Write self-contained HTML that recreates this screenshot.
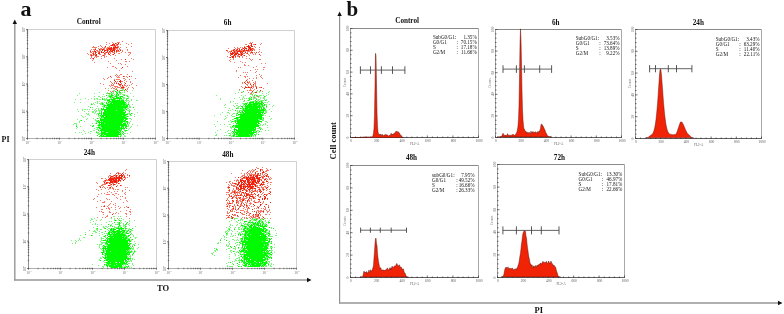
<!DOCTYPE html>
<html><head><meta charset="utf-8"><style>
html,body{margin:0;padding:0;background:#fff;}
body{width:784px;height:314px;overflow:hidden;}
svg{display:block;font-family:'Liberation Serif',serif;filter:blur(0.3px);}
</style></head><body>
<svg width="784" height="314" viewBox="0 0 784 314">
<defs><filter id="soft" x="-5%" y="-5%" width="110%" height="110%"><feGaussianBlur stdDeviation="0.42"/></filter></defs>
<rect width="784" height="314" fill="#fff"/>
<line x1="14.8" y1="23" x2="14.8" y2="280.6" stroke="#969696" stroke-width="1.4" />
<line x1="14.1" y1="280" x2="307" y2="280" stroke="#969696" stroke-width="1.5" />
<path d="M14.8 19.5 L17 24 L12.6 24 Z" fill="#111"/>
<path d="M311.5 280 L307 277.7 L307 282.3 Z" fill="#111"/>
<line x1="339.6" y1="16" x2="339.6" y2="303.6" stroke="#8e8e8e" stroke-width="1.15" />
<line x1="339.05" y1="303" x2="778" y2="303" stroke="#969696" stroke-width="1.5" />
<path d="M339.6 11.5 L341.8 16 L337.4 16 Z" fill="#111"/>
<path d="M782.5 303 L778 300.7 L778 305.3 Z" fill="#111"/>
<text x="20.5" y="16" font-size="22" font-weight="bold" text-anchor="start" fill="#111" >a</text>
<text x="346.5" y="16" font-size="21" font-weight="bold" text-anchor="start" fill="#111" >b</text>
<text x="1.5" y="142.3" font-size="8" font-weight="bold" text-anchor="start" fill="#111" >PI</text>
<text x="157" y="291" font-size="8.5" font-weight="bold" text-anchor="start" fill="#111" >TO</text>
<text x="534.5" y="312.8" font-size="8.5" font-weight="bold" text-anchor="start" fill="#111" >PI</text>
<text x="0" y="0" font-size="8.6" font-weight="bold" fill="#111" transform="translate(336.3 159.5) rotate(-90)">Cell count</text>
<path d="M27.5 29.5H155.5V138.5" fill="none" stroke="#d0d0d0" stroke-width="1"/>
<path d="M27.5 29.5V138.5" fill="none" stroke="#909090" stroke-width="1"/>
<path d="M27.5 138.5H155.5" fill="none" stroke="#b0b0b0" stroke-width="1"/>
<path d="M26.8 130.3h1.4M37.1 139.2v-1.4M26.8 125.5h1.4M42.8 139.2v-1.4M26.8 122.1h1.4M46.8 139.2v-1.4M26.8 119.5h1.4M49.9 139.2v-1.4M26.8 117.3h1.4M52.4 139.2v-1.4M26.8 115.5h1.4M54.5 139.2v-1.4M26.8 113.9h1.4M56.4 139.2v-1.4M26.8 112.5h1.4M58.0 139.2v-1.4M26.8 103.0h1.4M69.1 139.2v-1.4M26.8 98.2h1.4M74.8 139.2v-1.4M26.8 94.8h1.4M78.8 139.2v-1.4M26.8 92.2h1.4M81.9 139.2v-1.4M26.8 90.0h1.4M84.4 139.2v-1.4M26.8 88.2h1.4M86.5 139.2v-1.4M26.8 86.6h1.4M88.4 139.2v-1.4M26.8 85.2h1.4M90.0 139.2v-1.4M26.8 75.8h1.4M101.1 139.2v-1.4M26.8 71.0h1.4M106.8 139.2v-1.4M26.8 67.6h1.4M110.8 139.2v-1.4M26.8 65.0h1.4M113.9 139.2v-1.4M26.8 62.8h1.4M116.4 139.2v-1.4M26.8 61.0h1.4M118.5 139.2v-1.4M26.8 59.4h1.4M120.4 139.2v-1.4M26.8 58.0h1.4M122.0 139.2v-1.4M26.8 48.5h1.4M133.1 139.2v-1.4M26.8 43.7h1.4M138.8 139.2v-1.4M26.8 40.3h1.4M142.8 139.2v-1.4M26.8 37.7h1.4M145.9 139.2v-1.4M26.8 35.5h1.4M148.4 139.2v-1.4M26.8 33.7h1.4M150.5 139.2v-1.4M26.8 32.1h1.4M152.4 139.2v-1.4M26.8 30.7h1.4M154.0 139.2v-1.4M26.0 138.5h2M27.5 139.7v-2M26.0 111.2h2M59.5 139.7v-2M26.0 84.0h2M91.5 139.7v-2M26.0 56.8h2M123.5 139.7v-2M26.0 29.5h2M155.5 139.7v-2" stroke="#444" stroke-width="0.7" fill="none"/>
<text x="0" y="0" font-size="3.8" fill="#555" transform="translate(25.3 140.9) rotate(-90)">10</text>
<text x="0" y="0" font-size="2.5" fill="#666" transform="translate(23.1 137.3) rotate(-90)">0</text>
<text x="25.3" y="143.7" font-size="3.6" fill="#666">10</text>
<text x="29.3" y="141.9" font-size="2.4" fill="#777">0</text>
<text x="0" y="0" font-size="3.8" fill="#555" transform="translate(25.3 113.7) rotate(-90)">10</text>
<text x="0" y="0" font-size="2.5" fill="#666" transform="translate(23.1 110.0) rotate(-90)">1</text>
<text x="57.3" y="143.7" font-size="3.6" fill="#666">10</text>
<text x="61.3" y="141.9" font-size="2.4" fill="#777">1</text>
<text x="0" y="0" font-size="3.8" fill="#555" transform="translate(25.3 86.4) rotate(-90)">10</text>
<text x="0" y="0" font-size="2.5" fill="#666" transform="translate(23.1 82.8) rotate(-90)">2</text>
<text x="89.3" y="143.7" font-size="3.6" fill="#666">10</text>
<text x="93.3" y="141.9" font-size="2.4" fill="#777">2</text>
<text x="0" y="0" font-size="3.8" fill="#555" transform="translate(25.3 59.1) rotate(-90)">10</text>
<text x="0" y="0" font-size="2.5" fill="#666" transform="translate(23.1 55.5) rotate(-90)">3</text>
<text x="121.3" y="143.7" font-size="3.6" fill="#666">10</text>
<text x="125.3" y="141.9" font-size="2.4" fill="#777">3</text>
<text x="0" y="0" font-size="3.8" fill="#555" transform="translate(25.3 31.9) rotate(-90)">10</text>
<text x="0" y="0" font-size="2.5" fill="#666" transform="translate(23.1 28.3) rotate(-90)">4</text>
<text x="153.3" y="143.7" font-size="3.6" fill="#666">10</text>
<text x="157.3" y="141.9" font-size="2.4" fill="#777">4</text>
<text x="76.8" y="23.6" font-size="7.2" font-weight="bold" text-anchor="start" fill="#111" >Control</text>
<g filter="url(#soft)">
<path fill="#78f878" d="M108 88h1v1h-1zM114 88h1v1h-1zM120 88h1v1h-1zM122 89h2v1h-2zM113 90h2v1h-2zM119 90h1v1h-1zM132 90h1v1h-1zM110 91h1v1h-1zM116 91h2v1h-2zM124 91h1v1h-1zM99 92h1v1h-1zM107 92h1v1h-1zM113 92h1v1h-1zM117 92h1v1h-1zM122 92h1v1h-1zM124 92h1v1h-1zM79 93h1v1h-1zM94 93h1v1h-1zM106 93h2v1h-2zM110 93h4v1h-4zM116 93h1v1h-1zM119 93h3v1h-3zM130 93h1v1h-1zM103 94h1v1h-1zM109 94h1v1h-1zM112 94h1v1h-1zM114 94h1v1h-1zM117 94h1v1h-1zM120 94h1v1h-1zM122 94h3v1h-3zM77 95h1v1h-1zM108 95h3v1h-3zM113 95h1v1h-1zM115 95h1v1h-1zM117 95h1v1h-1zM123 95h1v1h-1zM126 95h2v1h-2zM94 96h1v1h-1zM98 96h2v1h-2zM102 96h1v1h-1zM104 96h1v1h-1zM108 96h1v1h-1zM112 96h1v1h-1zM114 96h1v1h-1zM117 96h1v1h-1zM119 96h1v1h-1zM128 96h1v1h-1zM133 96h1v1h-1zM100 97h1v1h-1zM107 97h1v1h-1zM109 97h1v1h-1zM111 97h1v1h-1zM113 97h2v1h-2zM119 97h1v1h-1zM122 97h3v1h-3zM128 97h1v1h-1zM85 98h1v1h-1zM91 98h1v1h-1zM94 98h1v1h-1zM96 98h2v1h-2zM104 98h1v1h-1zM106 98h1v1h-1zM110 98h2v1h-2zM123 98h2v1h-2zM126 98h1v1h-1zM128 98h1v1h-1zM75 99h1v1h-1zM80 99h1v1h-1zM88 99h1v1h-1zM94 99h1v1h-1zM97 99h1v1h-1zM99 99h2v1h-2zM103 99h6v1h-6zM110 99h1v1h-1zM115 99h1v1h-1zM117 99h1v1h-1zM120 99h4v1h-4zM131 99h1v1h-1zM104 100h2v1h-2zM111 100h1v1h-1zM120 100h1v1h-1zM125 100h4v1h-4zM131 100h1v1h-1zM136 100h2v1h-2zM97 101h1v1h-1zM99 101h1v1h-1zM107 101h2v1h-2zM111 101h1v1h-1zM124 101h1v1h-1zM126 101h1v1h-1zM129 101h1v1h-1zM74 102h1v1h-1zM80 102h1v1h-1zM95 102h1v1h-1zM97 102h1v1h-1zM101 102h2v1h-2zM104 102h1v1h-1zM109 102h2v1h-2zM128 102h1v1h-1zM91 103h1v1h-1zM93 103h1v1h-1zM97 103h1v1h-1zM99 103h3v1h-3zM103 103h1v1h-1zM107 103h3v1h-3zM112 103h1v1h-1zM125 103h2v1h-2zM128 103h1v1h-1zM92 104h1v1h-1zM94 104h1v1h-1zM100 104h2v1h-2zM103 104h2v1h-2zM126 104h2v1h-2zM132 104h1v1h-1zM103 105h1v1h-1zM106 105h1v1h-1zM122 105h1v1h-1zM125 105h1v1h-1zM129 105h1v1h-1zM88 106h1v1h-1zM97 106h1v1h-1zM102 106h2v1h-2zM106 106h2v1h-2zM129 106h2v1h-2zM92 107h1v1h-1zM103 107h3v1h-3zM127 107h1v1h-1zM129 107h2v1h-2zM96 108h1v1h-1zM98 108h1v1h-1zM123 108h2v1h-2zM127 108h2v1h-2zM77 109h1v1h-1zM82 109h1v1h-1zM84 109h2v1h-2zM87 109h1v1h-1zM89 109h1v1h-1zM92 109h1v1h-1zM95 109h1v1h-1zM98 109h1v1h-1zM124 109h2v1h-2zM129 109h1v1h-1zM134 109h1v1h-1zM82 110h1v1h-1zM94 110h1v1h-1zM96 110h1v1h-1zM98 110h5v1h-5zM106 110h1v1h-1zM116 110h1v1h-1zM127 110h4v1h-4zM78 111h1v1h-1zM84 111h1v1h-1zM88 111h1v1h-1zM92 111h2v1h-2zM95 111h2v1h-2zM99 111h1v1h-1zM123 111h1v1h-1zM92 112h2v1h-2zM95 112h1v1h-1zM99 112h1v1h-1zM129 112h1v1h-1zM137 112h1v1h-1zM86 113h1v1h-1zM88 113h1v1h-1zM94 113h1v1h-1zM97 113h2v1h-2zM100 113h1v1h-1zM127 113h3v1h-3zM132 113h1v1h-1zM87 114h2v1h-2zM96 114h1v1h-1zM129 114h1v1h-1zM134 114h1v1h-1zM81 115h1v1h-1zM89 115h1v1h-1zM98 115h2v1h-2zM101 115h1v1h-1zM122 115h1v1h-1zM126 115h1v1h-1zM130 115h2v1h-2zM82 116h1v1h-1zM85 116h1v1h-1zM98 116h1v1h-1zM100 116h1v1h-1zM125 116h2v1h-2zM128 116h1v1h-1zM134 116h1v1h-1zM83 117h1v1h-1zM99 117h1v1h-1zM102 117h1v1h-1zM126 117h1v1h-1zM87 118h1v1h-1zM93 118h1v1h-1zM98 118h1v1h-1zM101 118h3v1h-3zM129 118h2v1h-2zM77 119h1v1h-1zM86 119h1v1h-1zM95 119h1v1h-1zM127 119h1v1h-1zM131 119h1v1h-1zM80 120h1v1h-1zM95 120h3v1h-3zM123 120h1v1h-1zM79 121h1v1h-1zM84 121h1v1h-1zM96 121h1v1h-1zM98 121h1v1h-1zM102 121h1v1h-1zM125 121h1v1h-1zM130 121h1v1h-1zM79 122h1v1h-1zM96 122h1v1h-1zM124 122h3v1h-3zM128 122h2v1h-2zM74 123h3v1h-3zM92 123h1v1h-1zM95 123h1v1h-1zM104 123h1v1h-1zM129 123h1v1h-1zM73 124h1v1h-1zM76 124h1v1h-1zM98 124h1v1h-1zM126 124h3v1h-3zM132 124h1v1h-1zM76 125h1v1h-1zM90 125h1v1h-1zM97 125h1v1h-1zM100 125h1v1h-1zM128 125h1v1h-1zM137 125h1v1h-1zM80 126h1v1h-1zM93 126h1v1h-1zM98 126h3v1h-3zM127 126h2v1h-2zM131 126h1v1h-1zM77 127h1v1h-1zM96 127h2v1h-2zM100 127h2v1h-2zM120 127h1v1h-1zM122 127h1v1h-1zM126 127h1v1h-1zM130 127h1v1h-1zM76 128h1v1h-1zM94 128h1v1h-1zM97 128h1v1h-1zM101 128h1v1h-1zM129 128h1v1h-1zM96 129h3v1h-3zM100 129h1v1h-1zM120 129h1v1h-1zM123 129h2v1h-2zM128 129h1v1h-1zM83 130h1v1h-1zM93 130h2v1h-2zM118 130h1v1h-1zM121 130h1v1h-1zM124 130h1v1h-1zM127 130h1v1h-1zM84 131h1v1h-1zM90 131h2v1h-2zM96 131h1v1h-1zM99 131h1v1h-1zM102 131h2v1h-2zM119 131h1v1h-1zM125 131h1v1h-1zM75 132h1v1h-1zM79 132h1v1h-1zM81 132h1v1h-1zM88 132h1v1h-1zM97 132h2v1h-2zM106 132h2v1h-2zM120 132h2v1h-2zM130 132h1v1h-1zM85 133h1v1h-1zM90 133h1v1h-1zM97 133h4v1h-4zM119 133h1v1h-1zM124 133h2v1h-2zM127 133h1v1h-1zM82 134h1v1h-1zM98 134h2v1h-2zM103 134h1v1h-1zM121 134h1v1h-1zM102 135h1v1h-1zM104 135h2v1h-2zM118 135h1v1h-1zM120 135h2v1h-2zM124 135h1v1h-1zM100 136h1v1h-1zM124 136h2v1h-2z"/>
<path fill="#06fa06" d="M113 88h1v1h-1zM116 89h1v1h-1zM121 90h2v1h-2zM124 90h1v1h-1zM115 91h1v1h-1zM119 91h1v1h-1zM111 92h1v1h-1zM116 92h1v1h-1zM119 92h2v1h-2zM108 93h2v1h-2zM117 93h1v1h-1zM111 94h1v1h-1zM116 94h1v1h-1zM118 94h1v1h-1zM106 95h1v1h-1zM111 95h2v1h-2zM116 95h1v1h-1zM118 95h1v1h-1zM124 95h1v1h-1zM109 96h3v1h-3zM115 96h2v1h-2zM120 96h3v1h-3zM127 96h1v1h-1zM110 97h1v1h-1zM112 97h1v1h-1zM116 97h3v1h-3zM120 97h1v1h-1zM102 98h1v1h-1zM113 98h9v1h-9zM127 98h1v1h-1zM102 99h1v1h-1zM109 99h1v1h-1zM111 99h4v1h-4zM119 99h1v1h-1zM126 99h1v1h-1zM107 100h3v1h-3zM112 100h8v1h-8zM121 100h3v1h-3zM109 101h2v1h-2zM112 101h12v1h-12zM106 102h1v1h-1zM108 102h1v1h-1zM111 102h15v1h-15zM102 103h1v1h-1zM106 103h1v1h-1zM110 103h2v1h-2zM113 103h12v1h-12zM91 104h1v1h-1zM102 104h1v1h-1zM107 104h19v1h-19zM128 104h1v1h-1zM104 105h2v1h-2zM107 105h15v1h-15zM123 105h2v1h-2zM126 105h2v1h-2zM104 106h1v1h-1zM108 106h20v1h-20zM90 107h1v1h-1zM106 107h21v1h-21zM133 107h1v1h-1zM101 108h1v1h-1zM103 108h1v1h-1zM106 108h17v1h-17zM125 108h1v1h-1zM101 109h23v1h-23zM126 109h1v1h-1zM104 110h2v1h-2zM107 110h9v1h-9zM117 110h8v1h-8zM101 111h1v1h-1zM104 111h19v1h-19zM125 111h1v1h-1zM129 111h1v1h-1zM101 112h1v1h-1zM103 112h23v1h-23zM99 113h1v1h-1zM101 113h1v1h-1zM103 113h22v1h-22zM131 113h1v1h-1zM98 114h1v1h-1zM101 114h1v1h-1zM103 114h25v1h-25zM130 114h1v1h-1zM100 115h1v1h-1zM102 115h20v1h-20zM123 115h3v1h-3zM101 116h3v1h-3zM105 116h20v1h-20zM127 116h1v1h-1zM101 117h1v1h-1zM103 117h23v1h-23zM97 118h1v1h-1zM100 118h1v1h-1zM104 118h24v1h-24zM100 119h24v1h-24zM125 119h2v1h-2zM81 120h1v1h-1zM98 120h1v1h-1zM100 120h23v1h-23zM124 120h2v1h-2zM97 121h1v1h-1zM99 121h1v1h-1zM101 121h1v1h-1zM103 121h22v1h-22zM126 121h2v1h-2zM98 122h25v1h-25zM127 122h1v1h-1zM96 123h1v1h-1zM99 123h1v1h-1zM101 123h3v1h-3zM105 123h17v1h-17zM123 123h3v1h-3zM127 123h1v1h-1zM99 124h27v1h-27zM93 125h1v1h-1zM98 125h2v1h-2zM101 125h26v1h-26zM76 126h1v1h-1zM92 126h1v1h-1zM101 126h19v1h-19zM121 126h3v1h-3zM125 126h2v1h-2zM98 127h2v1h-2zM102 127h18v1h-18zM121 127h1v1h-1zM123 127h1v1h-1zM125 127h1v1h-1zM99 128h2v1h-2zM102 128h23v1h-23zM126 128h1v1h-1zM101 129h19v1h-19zM121 129h1v1h-1zM98 130h1v1h-1zM100 130h18v1h-18zM119 130h2v1h-2zM125 130h2v1h-2zM101 131h1v1h-1zM104 131h15v1h-15zM120 131h1v1h-1zM122 131h1v1h-1zM96 132h1v1h-1zM101 132h5v1h-5zM108 132h12v1h-12zM123 132h1v1h-1zM101 133h18v1h-18zM120 133h1v1h-1zM122 133h1v1h-1zM101 134h2v1h-2zM104 134h17v1h-17zM123 134h1v1h-1zM97 135h1v1h-1zM100 135h2v1h-2zM103 135h1v1h-1zM106 135h12v1h-12zM99 136h1v1h-1zM101 136h18v1h-18zM120 136h1v1h-1z"/>
<path fill="#f57a68" d="M122 41h1v1h-1zM106 42h1v1h-1zM112 42h1v1h-1zM117 42h3v1h-3zM109 43h1v1h-1zM113 43h1v1h-1zM116 43h1v1h-1zM126 43h1v1h-1zM131 43h1v1h-1zM106 44h1v1h-1zM116 44h1v1h-1zM118 44h1v1h-1zM120 44h1v1h-1zM128 44h1v1h-1zM100 45h1v1h-1zM110 45h1v1h-1zM113 45h1v1h-1zM115 45h3v1h-3zM93 46h1v1h-1zM98 46h1v1h-1zM101 46h1v1h-1zM109 46h1v1h-1zM113 46h2v1h-2zM117 46h2v1h-2zM131 46h1v1h-1zM92 47h5v1h-5zM102 47h1v1h-1zM104 47h2v1h-2zM107 47h4v1h-4zM118 47h1v1h-1zM120 47h1v1h-1zM126 47h1v1h-1zM95 48h1v1h-1zM98 48h1v1h-1zM100 48h2v1h-2zM103 48h2v1h-2zM106 48h2v1h-2zM112 48h1v1h-1zM115 48h3v1h-3zM119 48h1v1h-1zM91 49h1v1h-1zM93 49h2v1h-2zM100 49h2v1h-2zM104 49h1v1h-1zM106 49h1v1h-1zM108 49h1v1h-1zM112 49h1v1h-1zM115 49h1v1h-1zM117 49h1v1h-1zM119 49h2v1h-2zM127 49h1v1h-1zM90 50h1v1h-1zM94 50h1v1h-1zM96 50h2v1h-2zM99 50h2v1h-2zM106 50h1v1h-1zM108 50h1v1h-1zM111 50h1v1h-1zM117 50h1v1h-1zM122 50h1v1h-1zM127 50h1v1h-1zM92 51h2v1h-2zM97 51h3v1h-3zM110 51h1v1h-1zM117 51h3v1h-3zM122 51h1v1h-1zM90 52h2v1h-2zM93 52h1v1h-1zM96 52h1v1h-1zM98 52h1v1h-1zM102 52h1v1h-1zM105 52h1v1h-1zM107 52h4v1h-4zM112 52h3v1h-3zM116 52h1v1h-1zM121 52h1v1h-1zM125 52h1v1h-1zM128 52h3v1h-3zM87 53h1v1h-1zM92 53h1v1h-1zM105 53h1v1h-1zM110 53h1v1h-1zM118 53h2v1h-2zM130 53h1v1h-1zM88 54h1v1h-1zM90 54h2v1h-2zM94 54h2v1h-2zM99 54h2v1h-2zM104 54h2v1h-2zM108 54h1v1h-1zM112 54h1v1h-1zM129 54h1v1h-1zM90 55h1v1h-1zM92 55h2v1h-2zM102 55h1v1h-1zM104 55h1v1h-1zM110 55h1v1h-1zM115 55h1v1h-1zM128 55h1v1h-1zM91 56h1v1h-1zM95 56h4v1h-4zM101 56h1v1h-1zM104 56h1v1h-1zM106 56h1v1h-1zM91 57h1v1h-1zM94 57h1v1h-1zM96 57h1v1h-1zM104 57h1v1h-1zM90 58h1v1h-1zM92 58h1v1h-1zM101 58h1v1h-1zM114 58h1v1h-1zM131 58h1v1h-1zM93 59h1v1h-1zM121 59h1v1h-1zM133 59h1v1h-1zM92 60h1v1h-1zM116 60h1v1h-1zM108 61h1v1h-1zM125 61h2v1h-2zM129 61h1v1h-1zM94 62h1v1h-1zM110 63h1v1h-1zM118 63h1v1h-1zM120 63h1v1h-1zM121 64h1v1h-1zM125 64h1v1h-1zM112 66h2v1h-2zM127 66h1v1h-1zM107 67h1v1h-1zM115 67h1v1h-1zM116 68h1v1h-1zM121 68h1v1h-1zM119 70h1v1h-1zM132 71h1v1h-1zM116 74h1v1h-1zM120 74h2v1h-2zM127 74h1v1h-1zM115 75h1v1h-1zM117 75h1v1h-1zM119 75h1v1h-1zM116 76h1v1h-1zM118 76h1v1h-1zM124 76h1v1h-1zM126 76h1v1h-1zM131 76h1v1h-1zM108 77h1v1h-1zM111 77h1v1h-1zM117 77h3v1h-3zM127 77h1v1h-1zM103 78h1v1h-1zM107 78h1v1h-1zM123 78h2v1h-2zM135 78h1v1h-1zM104 79h1v1h-1zM114 79h1v1h-1zM116 79h4v1h-4zM125 79h1v1h-1zM129 79h1v1h-1zM124 80h1v1h-1zM110 81h1v1h-1zM117 81h1v1h-1zM121 81h2v1h-2zM126 81h1v1h-1zM130 81h1v1h-1zM111 82h1v1h-1zM114 82h1v1h-1zM116 82h1v1h-1zM124 82h1v1h-1zM130 82h1v1h-1zM100 83h1v1h-1zM112 83h1v1h-1zM114 83h1v1h-1zM121 83h1v1h-1zM132 83h1v1h-1zM103 84h1v1h-1zM111 84h1v1h-1zM113 84h1v1h-1zM118 84h1v1h-1zM121 84h1v1h-1zM124 84h1v1h-1zM131 84h1v1h-1zM109 85h1v1h-1zM111 85h3v1h-3zM119 85h2v1h-2zM124 85h2v1h-2zM127 85h1v1h-1zM129 85h1v1h-1zM136 85h1v1h-1zM110 86h1v1h-1zM114 86h4v1h-4zM120 86h1v1h-1zM122 86h2v1h-2zM126 86h1v1h-1zM112 87h1v1h-1zM115 87h1v1h-1zM117 87h3v1h-3zM124 87h1v1h-1zM128 87h1v1h-1zM132 87h1v1h-1zM105 88h1v1h-1zM111 88h1v1h-1zM113 88h2v1h-2zM116 88h1v1h-1zM121 88h3v1h-3zM127 88h1v1h-1zM133 88h1v1h-1zM115 89h1v1h-1zM127 89h1v1h-1zM108 90h1v1h-1zM120 90h1v1h-1zM126 90h1v1h-1zM110 91h1v1h-1zM112 91h2v1h-2zM127 91h1v1h-1zM109 93h1v1h-1zM113 97h1v1h-1z"/>
<path fill="#f0220c" d="M115 43h1v1h-1zM118 43h1v1h-1zM112 44h3v1h-3zM117 44h1v1h-1zM111 45h2v1h-2zM114 45h1v1h-1zM105 46h1v1h-1zM115 46h1v1h-1zM111 47h1v1h-1zM113 47h5v1h-5zM108 48h4v1h-4zM113 48h2v1h-2zM95 49h1v1h-1zM99 49h1v1h-1zM102 49h2v1h-2zM107 49h1v1h-1zM109 49h3v1h-3zM113 49h2v1h-2zM102 50h1v1h-1zM104 50h2v1h-2zM107 50h1v1h-1zM110 50h1v1h-1zM112 50h3v1h-3zM116 50h1v1h-1zM118 50h1v1h-1zM120 50h1v1h-1zM90 51h1v1h-1zM94 51h2v1h-2zM101 51h1v1h-1zM104 51h1v1h-1zM107 51h1v1h-1zM109 51h1v1h-1zM111 51h2v1h-2zM114 51h1v1h-1zM116 51h1v1h-1zM95 52h1v1h-1zM99 52h1v1h-1zM101 52h1v1h-1zM103 52h1v1h-1zM106 52h1v1h-1zM93 53h1v1h-1zM95 53h1v1h-1zM98 53h2v1h-2zM104 53h1v1h-1zM108 53h1v1h-1zM114 53h1v1h-1zM93 54h1v1h-1zM96 54h1v1h-1zM109 54h1v1h-1zM113 54h1v1h-1zM91 55h1v1h-1zM95 55h2v1h-2zM103 55h1v1h-1zM93 58h1v1h-1zM125 59h1v1h-1zM122 67h1v1h-1zM110 76h1v1h-1zM123 76h1v1h-1zM129 76h1v1h-1zM114 80h1v1h-1zM120 80h1v1h-1zM115 81h1v1h-1zM119 81h2v1h-2zM120 82h1v1h-1zM116 83h1v1h-1zM118 83h1v1h-1zM125 83h1v1h-1zM119 84h2v1h-2zM122 85h1v1h-1zM121 87h3v1h-3zM125 89h1v1h-1zM117 90h1v1h-1z"/>
</g>
<path d="M167.5 30.5H294.5V138.5" fill="none" stroke="#d0d0d0" stroke-width="1"/>
<path d="M167.5 30.5V138.5" fill="none" stroke="#909090" stroke-width="1"/>
<path d="M167.5 138.5H294.5" fill="none" stroke="#b0b0b0" stroke-width="1"/>
<path d="M166.8 130.4h1.4M177.1 139.2v-1.4M166.8 125.6h1.4M182.6 139.2v-1.4M166.8 122.2h1.4M186.6 139.2v-1.4M166.8 119.6h1.4M189.7 139.2v-1.4M166.8 117.5h1.4M192.2 139.2v-1.4M166.8 115.7h1.4M194.3 139.2v-1.4M166.8 114.1h1.4M196.2 139.2v-1.4M166.8 112.7h1.4M197.8 139.2v-1.4M166.8 103.4h1.4M208.8 139.2v-1.4M166.8 98.6h1.4M214.4 139.2v-1.4M166.8 95.2h1.4M218.4 139.2v-1.4M166.8 92.6h1.4M221.4 139.2v-1.4M166.8 90.5h1.4M224.0 139.2v-1.4M166.8 88.7h1.4M226.1 139.2v-1.4M166.8 87.1h1.4M227.9 139.2v-1.4M166.8 85.7h1.4M229.5 139.2v-1.4M166.8 76.4h1.4M240.6 139.2v-1.4M166.8 71.6h1.4M246.1 139.2v-1.4M166.8 68.2h1.4M250.1 139.2v-1.4M166.8 65.6h1.4M253.2 139.2v-1.4M166.8 63.5h1.4M255.7 139.2v-1.4M166.8 61.7h1.4M257.8 139.2v-1.4M166.8 60.1h1.4M259.7 139.2v-1.4M166.8 58.7h1.4M261.3 139.2v-1.4M166.8 49.4h1.4M272.3 139.2v-1.4M166.8 44.6h1.4M277.9 139.2v-1.4M166.8 41.2h1.4M281.9 139.2v-1.4M166.8 38.6h1.4M284.9 139.2v-1.4M166.8 36.5h1.4M287.5 139.2v-1.4M166.8 34.7h1.4M289.6 139.2v-1.4M166.8 33.1h1.4M291.4 139.2v-1.4M166.8 31.7h1.4M293.0 139.2v-1.4M166.0 138.5h2M167.5 139.7v-2M166.0 111.5h2M199.2 139.7v-2M166.0 84.5h2M231.0 139.7v-2M166.0 57.5h2M262.8 139.7v-2M166.0 30.5h2M294.5 139.7v-2" stroke="#444" stroke-width="0.7" fill="none"/>
<text x="0" y="0" font-size="3.8" fill="#555" transform="translate(165.3 140.9) rotate(-90)">10</text>
<text x="0" y="0" font-size="2.5" fill="#666" transform="translate(163.1 137.3) rotate(-90)">0</text>
<text x="165.3" y="143.7" font-size="3.6" fill="#666">10</text>
<text x="169.3" y="141.9" font-size="2.4" fill="#777">0</text>
<text x="0" y="0" font-size="3.8" fill="#555" transform="translate(165.3 113.9) rotate(-90)">10</text>
<text x="0" y="0" font-size="2.5" fill="#666" transform="translate(163.1 110.3) rotate(-90)">1</text>
<text x="197.1" y="143.7" font-size="3.6" fill="#666">10</text>
<text x="201.1" y="141.9" font-size="2.4" fill="#777">1</text>
<text x="0" y="0" font-size="3.8" fill="#555" transform="translate(165.3 86.9) rotate(-90)">10</text>
<text x="0" y="0" font-size="2.5" fill="#666" transform="translate(163.1 83.3) rotate(-90)">2</text>
<text x="228.8" y="143.7" font-size="3.6" fill="#666">10</text>
<text x="232.8" y="141.9" font-size="2.4" fill="#777">2</text>
<text x="0" y="0" font-size="3.8" fill="#555" transform="translate(165.3 59.9) rotate(-90)">10</text>
<text x="0" y="0" font-size="2.5" fill="#666" transform="translate(163.1 56.3) rotate(-90)">3</text>
<text x="260.6" y="143.7" font-size="3.6" fill="#666">10</text>
<text x="264.6" y="141.9" font-size="2.4" fill="#777">3</text>
<text x="0" y="0" font-size="3.8" fill="#555" transform="translate(165.3 32.9) rotate(-90)">10</text>
<text x="0" y="0" font-size="2.5" fill="#666" transform="translate(163.1 29.3) rotate(-90)">4</text>
<text x="292.3" y="143.7" font-size="3.6" fill="#666">10</text>
<text x="296.3" y="141.9" font-size="2.4" fill="#777">4</text>
<text x="223.8" y="24.6" font-size="7.2" font-weight="bold" text-anchor="start" fill="#111" >6h</text>
<g filter="url(#soft)">
<path fill="#78f878" d="M239 90h1v1h-1zM250 90h1v1h-1zM256 91h1v1h-1zM259 91h2v1h-2zM269 91h1v1h-1zM238 92h1v1h-1zM242 92h1v1h-1zM252 92h1v1h-1zM254 92h1v1h-1zM259 92h1v1h-1zM268 92h1v1h-1zM235 93h1v1h-1zM253 93h1v1h-1zM262 93h1v1h-1zM266 93h1v1h-1zM250 94h2v1h-2zM255 94h1v1h-1zM268 94h1v1h-1zM216 95h1v1h-1zM241 95h1v1h-1zM245 95h1v1h-1zM252 95h1v1h-1zM257 95h1v1h-1zM259 95h3v1h-3zM263 95h1v1h-1zM266 95h1v1h-1zM243 96h1v1h-1zM250 96h1v1h-1zM253 96h2v1h-2zM256 96h2v1h-2zM259 96h1v1h-1zM265 96h1v1h-1zM239 97h1v1h-1zM243 97h1v1h-1zM249 97h1v1h-1zM253 97h1v1h-1zM255 97h1v1h-1zM258 97h1v1h-1zM260 97h1v1h-1zM263 97h2v1h-2zM220 98h1v1h-1zM234 98h1v1h-1zM242 98h1v1h-1zM244 98h1v1h-1zM246 98h1v1h-1zM248 98h1v1h-1zM250 98h2v1h-2zM253 98h4v1h-4zM260 98h1v1h-1zM263 98h2v1h-2zM220 99h1v1h-1zM240 99h1v1h-1zM242 99h1v1h-1zM250 99h1v1h-1zM253 99h1v1h-1zM258 99h2v1h-2zM264 99h1v1h-1zM266 99h1v1h-1zM244 100h1v1h-1zM247 100h1v1h-1zM249 100h1v1h-1zM257 100h2v1h-2zM260 100h4v1h-4zM266 100h1v1h-1zM230 101h1v1h-1zM233 101h1v1h-1zM243 101h2v1h-2zM250 101h3v1h-3zM254 101h2v1h-2zM257 101h1v1h-1zM260 101h1v1h-1zM262 101h1v1h-1zM268 101h1v1h-1zM230 102h1v1h-1zM247 102h1v1h-1zM257 102h1v1h-1zM259 102h1v1h-1zM264 102h2v1h-2zM267 102h1v1h-1zM235 103h1v1h-1zM237 103h1v1h-1zM242 103h3v1h-3zM247 103h1v1h-1zM251 103h2v1h-2zM262 103h1v1h-1zM225 104h1v1h-1zM243 104h1v1h-1zM245 104h1v1h-1zM258 104h1v1h-1zM260 104h1v1h-1zM265 104h2v1h-2zM269 104h1v1h-1zM224 105h1v1h-1zM233 105h1v1h-1zM236 105h2v1h-2zM240 105h1v1h-1zM243 105h1v1h-1zM246 105h1v1h-1zM252 105h1v1h-1zM257 105h1v1h-1zM260 105h2v1h-2zM263 105h1v1h-1zM266 105h1v1h-1zM273 105h1v1h-1zM234 106h1v1h-1zM238 106h2v1h-2zM244 106h1v1h-1zM261 106h1v1h-1zM263 106h1v1h-1zM272 106h1v1h-1zM225 107h1v1h-1zM237 107h2v1h-2zM260 107h1v1h-1zM264 107h1v1h-1zM266 107h1v1h-1zM229 108h1v1h-1zM237 108h2v1h-2zM241 108h2v1h-2zM244 108h1v1h-1zM248 108h1v1h-1zM232 109h1v1h-1zM242 109h1v1h-1zM244 109h1v1h-1zM260 109h1v1h-1zM264 109h1v1h-1zM269 109h1v1h-1zM228 110h1v1h-1zM230 110h1v1h-1zM237 110h1v1h-1zM239 110h4v1h-4zM265 110h2v1h-2zM237 111h1v1h-1zM241 111h1v1h-1zM261 111h2v1h-2zM265 111h2v1h-2zM271 111h1v1h-1zM222 112h1v1h-1zM227 112h2v1h-2zM237 112h3v1h-3zM241 112h1v1h-1zM265 112h2v1h-2zM229 113h1v1h-1zM233 113h2v1h-2zM236 113h1v1h-1zM240 113h3v1h-3zM257 113h1v1h-1zM265 113h1v1h-1zM220 114h1v1h-1zM232 114h1v1h-1zM236 114h1v1h-1zM262 114h2v1h-2zM214 115h1v1h-1zM227 115h1v1h-1zM231 115h1v1h-1zM237 115h2v1h-2zM263 115h1v1h-1zM265 115h1v1h-1zM225 116h1v1h-1zM232 116h3v1h-3zM239 116h1v1h-1zM269 116h1v1h-1zM226 117h1v1h-1zM262 117h2v1h-2zM225 118h1v1h-1zM238 118h1v1h-1zM271 118h1v1h-1zM224 119h1v1h-1zM232 119h2v1h-2zM236 119h1v1h-1zM238 119h1v1h-1zM258 119h2v1h-2zM262 119h2v1h-2zM270 119h1v1h-1zM230 120h1v1h-1zM234 120h1v1h-1zM236 120h1v1h-1zM259 120h1v1h-1zM262 120h2v1h-2zM217 121h1v1h-1zM228 121h1v1h-1zM231 121h1v1h-1zM233 121h2v1h-2zM236 121h1v1h-1zM265 121h2v1h-2zM231 122h1v1h-1zM261 122h1v1h-1zM267 122h1v1h-1zM233 123h1v1h-1zM265 123h1v1h-1zM214 124h1v1h-1zM220 124h1v1h-1zM224 124h1v1h-1zM229 124h2v1h-2zM236 124h2v1h-2zM258 124h1v1h-1zM260 124h1v1h-1zM263 124h1v1h-1zM265 124h1v1h-1zM234 125h1v1h-1zM259 125h2v1h-2zM262 125h1v1h-1zM267 125h1v1h-1zM215 126h1v1h-1zM227 126h1v1h-1zM230 126h1v1h-1zM233 126h2v1h-2zM230 127h4v1h-4zM260 127h1v1h-1zM267 127h1v1h-1zM231 128h1v1h-1zM254 128h1v1h-1zM257 128h5v1h-5zM220 129h1v1h-1zM233 129h1v1h-1zM262 129h1v1h-1zM217 130h1v1h-1zM228 130h1v1h-1zM230 130h1v1h-1zM255 130h1v1h-1zM257 130h2v1h-2zM265 130h1v1h-1zM268 130h1v1h-1zM227 131h1v1h-1zM233 131h1v1h-1zM235 131h2v1h-2zM254 131h2v1h-2zM261 131h1v1h-1zM215 132h1v1h-1zM225 132h1v1h-1zM231 132h1v1h-1zM234 132h1v1h-1zM256 132h1v1h-1zM258 132h1v1h-1zM228 133h3v1h-3zM232 133h2v1h-2zM238 133h1v1h-1zM256 133h1v1h-1zM216 134h1v1h-1zM230 134h1v1h-1zM233 134h1v1h-1zM235 134h1v1h-1zM249 134h1v1h-1zM255 134h2v1h-2zM215 135h2v1h-2zM224 135h1v1h-1zM226 135h1v1h-1zM230 135h1v1h-1zM232 135h1v1h-1zM236 135h2v1h-2zM250 135h1v1h-1zM252 135h2v1h-2zM231 136h2v1h-2zM234 136h2v1h-2zM250 136h1v1h-1zM253 136h1v1h-1zM255 136h1v1h-1z"/>
<path fill="#06fa06" d="M243 91h1v1h-1zM254 95h1v1h-1zM256 95h1v1h-1zM264 96h1v1h-1zM251 97h1v1h-1zM249 98h1v1h-1zM249 99h1v1h-1zM251 99h1v1h-1zM256 99h1v1h-1zM248 100h1v1h-1zM255 100h1v1h-1zM265 100h1v1h-1zM253 101h1v1h-1zM256 101h1v1h-1zM259 101h1v1h-1zM261 101h1v1h-1zM249 102h5v1h-5zM255 102h2v1h-2zM258 102h1v1h-1zM261 102h2v1h-2zM245 103h2v1h-2zM249 103h2v1h-2zM253 103h9v1h-9zM263 103h1v1h-1zM244 104h1v1h-1zM246 104h1v1h-1zM248 104h10v1h-10zM259 104h1v1h-1zM261 104h2v1h-2zM264 104h1v1h-1zM245 105h1v1h-1zM247 105h5v1h-5zM253 105h4v1h-4zM258 105h2v1h-2zM262 105h1v1h-1zM264 105h1v1h-1zM241 106h2v1h-2zM245 106h16v1h-16zM262 106h1v1h-1zM266 106h1v1h-1zM242 107h1v1h-1zM245 107h15v1h-15zM261 107h1v1h-1zM263 107h1v1h-1zM236 108h1v1h-1zM240 108h1v1h-1zM243 108h1v1h-1zM245 108h3v1h-3zM249 108h9v1h-9zM259 108h1v1h-1zM261 108h1v1h-1zM263 108h2v1h-2zM243 109h1v1h-1zM245 109h15v1h-15zM261 109h3v1h-3zM265 109h1v1h-1zM235 110h1v1h-1zM243 110h22v1h-22zM239 111h1v1h-1zM242 111h1v1h-1zM244 111h17v1h-17zM263 111h1v1h-1zM240 112h1v1h-1zM242 112h2v1h-2zM245 112h19v1h-19zM237 113h1v1h-1zM243 113h14v1h-14zM258 113h3v1h-3zM262 113h1v1h-1zM264 113h1v1h-1zM238 114h24v1h-24zM236 115h1v1h-1zM240 115h23v1h-23zM240 116h22v1h-22zM236 117h26v1h-26zM234 118h4v1h-4zM240 118h22v1h-22zM263 118h1v1h-1zM237 119h1v1h-1zM239 119h19v1h-19zM260 119h2v1h-2zM235 120h1v1h-1zM237 120h22v1h-22zM232 121h1v1h-1zM235 121h1v1h-1zM237 121h25v1h-25zM235 122h1v1h-1zM237 122h22v1h-22zM236 123h21v1h-21zM258 123h2v1h-2zM238 124h20v1h-20zM233 125h1v1h-1zM235 125h24v1h-24zM232 126h1v1h-1zM235 126h24v1h-24zM235 127h21v1h-21zM259 127h1v1h-1zM234 128h1v1h-1zM238 128h16v1h-16zM255 128h1v1h-1zM234 129h3v1h-3zM238 129h18v1h-18zM260 129h1v1h-1zM234 130h1v1h-1zM236 130h19v1h-19zM232 131h1v1h-1zM234 131h1v1h-1zM237 131h15v1h-15zM253 131h1v1h-1zM256 131h1v1h-1zM259 131h1v1h-1zM233 132h1v1h-1zM235 132h21v1h-21zM234 133h1v1h-1zM236 133h2v1h-2zM239 133h15v1h-15zM234 134h1v1h-1zM236 134h13v1h-13zM250 134h3v1h-3zM254 134h1v1h-1zM258 134h1v1h-1zM229 135h1v1h-1zM233 135h2v1h-2zM238 135h12v1h-12zM251 135h1v1h-1zM255 135h1v1h-1zM233 136h1v1h-1zM236 136h14v1h-14zM251 136h1v1h-1z"/>
<path fill="#f57a68" d="M250 42h1v1h-1zM252 42h1v1h-1zM249 43h2v1h-2zM261 43h1v1h-1zM245 44h2v1h-2zM253 44h2v1h-2zM260 44h1v1h-1zM250 45h1v1h-1zM244 46h1v1h-1zM246 46h1v1h-1zM254 46h1v1h-1zM234 47h1v1h-1zM237 47h1v1h-1zM240 47h1v1h-1zM242 47h1v1h-1zM245 47h1v1h-1zM255 47h1v1h-1zM259 47h1v1h-1zM228 48h1v1h-1zM235 48h1v1h-1zM237 48h3v1h-3zM242 48h1v1h-1zM244 48h1v1h-1zM248 48h1v1h-1zM251 48h1v1h-1zM253 48h1v1h-1zM233 49h1v1h-1zM236 49h1v1h-1zM242 49h1v1h-1zM246 49h1v1h-1zM249 49h1v1h-1zM252 49h3v1h-3zM259 49h1v1h-1zM227 50h1v1h-1zM231 50h2v1h-2zM234 50h2v1h-2zM237 50h2v1h-2zM240 50h3v1h-3zM245 50h1v1h-1zM249 50h1v1h-1zM251 50h1v1h-1zM254 50h1v1h-1zM227 51h1v1h-1zM229 51h2v1h-2zM233 51h1v1h-1zM235 51h2v1h-2zM242 51h1v1h-1zM244 51h2v1h-2zM247 51h3v1h-3zM251 51h1v1h-1zM259 51h1v1h-1zM228 52h1v1h-1zM230 52h1v1h-1zM233 52h1v1h-1zM235 52h2v1h-2zM241 52h1v1h-1zM247 52h1v1h-1zM250 52h1v1h-1zM254 52h1v1h-1zM258 52h1v1h-1zM261 52h1v1h-1zM234 53h1v1h-1zM238 53h1v1h-1zM240 53h1v1h-1zM242 53h3v1h-3zM246 53h1v1h-1zM250 53h1v1h-1zM252 53h1v1h-1zM255 53h1v1h-1zM230 54h1v1h-1zM240 54h1v1h-1zM248 54h1v1h-1zM253 54h1v1h-1zM255 54h1v1h-1zM233 55h1v1h-1zM235 55h1v1h-1zM237 55h2v1h-2zM240 55h1v1h-1zM243 55h1v1h-1zM249 55h1v1h-1zM260 55h1v1h-1zM227 56h1v1h-1zM231 56h1v1h-1zM237 56h2v1h-2zM242 56h1v1h-1zM246 56h1v1h-1zM229 57h1v1h-1zM235 57h1v1h-1zM239 57h1v1h-1zM242 57h1v1h-1zM233 58h1v1h-1zM246 58h1v1h-1zM249 58h1v1h-1zM230 59h1v1h-1zM233 59h1v1h-1zM250 59h1v1h-1zM252 59h1v1h-1zM259 59h2v1h-2zM229 60h1v1h-1zM251 60h1v1h-1zM230 61h1v1h-1zM240 61h1v1h-1zM234 62h1v1h-1zM242 62h1v1h-1zM245 62h1v1h-1zM261 63h1v1h-1zM265 63h1v1h-1zM244 64h1v1h-1zM244 65h2v1h-2zM248 65h1v1h-1zM256 66h1v1h-1zM238 67h1v1h-1zM240 67h1v1h-1zM253 67h1v1h-1zM263 67h2v1h-2zM255 69h1v1h-1zM257 69h1v1h-1zM263 69h1v1h-1zM236 70h1v1h-1zM250 70h1v1h-1zM236 71h1v1h-1zM256 71h1v1h-1zM243 72h1v1h-1zM245 72h1v1h-1zM247 72h1v1h-1zM255 72h1v1h-1zM246 74h1v1h-1zM259 74h1v1h-1zM240 75h1v1h-1zM256 75h1v1h-1zM261 75h1v1h-1zM244 76h2v1h-2zM247 76h1v1h-1zM260 76h1v1h-1zM238 77h1v1h-1zM245 77h1v1h-1zM256 77h1v1h-1zM261 77h1v1h-1zM249 78h1v1h-1zM253 78h1v1h-1zM256 78h1v1h-1zM262 78h1v1h-1zM247 79h1v1h-1zM252 80h1v1h-1zM245 81h1v1h-1zM247 81h1v1h-1zM249 81h1v1h-1zM255 81h1v1h-1zM242 82h1v1h-1zM248 82h2v1h-2zM253 82h1v1h-1zM255 82h1v1h-1zM242 83h1v1h-1zM248 83h1v1h-1zM250 83h1v1h-1zM254 83h2v1h-2zM267 83h1v1h-1zM246 84h2v1h-2zM255 84h1v1h-1zM247 85h1v1h-1zM251 85h1v1h-1zM253 85h1v1h-1zM255 85h1v1h-1zM241 86h1v1h-1zM245 86h1v1h-1zM248 86h1v1h-1zM251 86h3v1h-3zM255 86h2v1h-2zM242 87h1v1h-1zM247 87h1v1h-1zM250 87h1v1h-1zM253 87h1v1h-1zM259 87h2v1h-2zM250 88h1v1h-1zM252 88h1v1h-1zM263 88h1v1h-1zM239 89h1v1h-1zM250 89h1v1h-1zM254 89h1v1h-1zM247 90h1v1h-1zM249 90h3v1h-3zM253 90h1v1h-1zM257 90h1v1h-1zM262 91h1v1h-1zM241 92h1v1h-1zM248 92h1v1h-1zM251 92h1v1h-1zM250 93h2v1h-2zM252 94h1v1h-1zM257 96h2v1h-2zM254 97h1v1h-1zM244 100h1v1h-1z"/>
<path fill="#f0220c" d="M251 43h1v1h-1zM251 44h1v1h-1zM255 44h1v1h-1zM248 45h1v1h-1zM251 45h1v1h-1zM247 46h3v1h-3zM251 46h2v1h-2zM244 47h1v1h-1zM248 47h3v1h-3zM243 48h1v1h-1zM245 48h2v1h-2zM249 48h2v1h-2zM252 48h1v1h-1zM234 49h1v1h-1zM237 49h1v1h-1zM239 49h1v1h-1zM241 49h1v1h-1zM244 49h1v1h-1zM248 49h1v1h-1zM250 49h2v1h-2zM226 50h1v1h-1zM233 50h1v1h-1zM236 50h1v1h-1zM239 50h1v1h-1zM243 50h2v1h-2zM246 50h3v1h-3zM250 50h1v1h-1zM252 50h1v1h-1zM231 51h1v1h-1zM234 51h1v1h-1zM237 51h5v1h-5zM243 51h1v1h-1zM232 52h1v1h-1zM234 52h1v1h-1zM237 52h1v1h-1zM240 52h1v1h-1zM242 52h1v1h-1zM245 52h1v1h-1zM251 52h2v1h-2zM256 52h1v1h-1zM230 53h4v1h-4zM235 53h3v1h-3zM241 53h1v1h-1zM247 53h1v1h-1zM231 54h2v1h-2zM234 54h3v1h-3zM238 54h2v1h-2zM241 54h2v1h-2zM259 54h1v1h-1zM230 55h1v1h-1zM234 55h1v1h-1zM241 55h1v1h-1zM244 55h1v1h-1zM232 56h2v1h-2zM235 56h1v1h-1zM239 56h1v1h-1zM230 57h1v1h-1zM232 57h2v1h-2zM246 80h1v1h-1zM244 82h1v1h-1zM247 82h1v1h-1zM245 83h1v1h-1zM250 84h1v1h-1zM253 84h1v1h-1zM245 87h2v1h-2zM248 87h2v1h-2zM251 87h1v1h-1zM256 87h1v1h-1zM261 87h1v1h-1zM244 88h1v1h-1zM256 88h1v1h-1zM260 90h1v1h-1zM252 91h1v1h-1zM255 92h2v1h-2z"/>
</g>
<path d="M28.5 159.5H156.5V268.5" fill="none" stroke="#d0d0d0" stroke-width="1"/>
<path d="M28.5 159.5V268.5" fill="none" stroke="#909090" stroke-width="1"/>
<path d="M28.5 268.5H156.5" fill="none" stroke="#b0b0b0" stroke-width="1"/>
<path d="M27.8 260.3h1.4M38.1 269.2v-1.4M27.8 255.5h1.4M43.8 269.2v-1.4M27.8 252.1h1.4M47.8 269.2v-1.4M27.8 249.5h1.4M50.9 269.2v-1.4M27.8 247.3h1.4M53.4 269.2v-1.4M27.8 245.5h1.4M55.5 269.2v-1.4M27.8 243.9h1.4M57.4 269.2v-1.4M27.8 242.5h1.4M59.0 269.2v-1.4M27.8 233.0h1.4M70.1 269.2v-1.4M27.8 228.2h1.4M75.8 269.2v-1.4M27.8 224.8h1.4M79.8 269.2v-1.4M27.8 222.2h1.4M82.9 269.2v-1.4M27.8 220.0h1.4M85.4 269.2v-1.4M27.8 218.2h1.4M87.5 269.2v-1.4M27.8 216.6h1.4M89.4 269.2v-1.4M27.8 215.2h1.4M91.0 269.2v-1.4M27.8 205.8h1.4M102.1 269.2v-1.4M27.8 201.0h1.4M107.8 269.2v-1.4M27.8 197.6h1.4M111.8 269.2v-1.4M27.8 195.0h1.4M114.9 269.2v-1.4M27.8 192.8h1.4M117.4 269.2v-1.4M27.8 191.0h1.4M119.5 269.2v-1.4M27.8 189.4h1.4M121.4 269.2v-1.4M27.8 188.0h1.4M123.0 269.2v-1.4M27.8 178.5h1.4M134.1 269.2v-1.4M27.8 173.7h1.4M139.8 269.2v-1.4M27.8 170.3h1.4M143.8 269.2v-1.4M27.8 167.7h1.4M146.9 269.2v-1.4M27.8 165.5h1.4M149.4 269.2v-1.4M27.8 163.7h1.4M151.5 269.2v-1.4M27.8 162.1h1.4M153.4 269.2v-1.4M27.8 160.7h1.4M155.0 269.2v-1.4M27.0 268.5h2M28.5 269.7v-2M27.0 241.2h2M60.5 269.7v-2M27.0 214.0h2M92.5 269.7v-2M27.0 186.8h2M124.5 269.7v-2M27.0 159.5h2M156.5 269.7v-2" stroke="#444" stroke-width="0.7" fill="none"/>
<text x="0" y="0" font-size="3.8" fill="#555" transform="translate(26.3 270.9) rotate(-90)">10</text>
<text x="0" y="0" font-size="2.5" fill="#666" transform="translate(24.1 267.3) rotate(-90)">0</text>
<text x="26.3" y="273.7" font-size="3.6" fill="#666">10</text>
<text x="30.3" y="271.9" font-size="2.4" fill="#777">0</text>
<text x="0" y="0" font-size="3.8" fill="#555" transform="translate(26.3 243.7) rotate(-90)">10</text>
<text x="0" y="0" font-size="2.5" fill="#666" transform="translate(24.1 240.1) rotate(-90)">1</text>
<text x="58.3" y="273.7" font-size="3.6" fill="#666">10</text>
<text x="62.3" y="271.9" font-size="2.4" fill="#777">1</text>
<text x="0" y="0" font-size="3.8" fill="#555" transform="translate(26.3 216.4) rotate(-90)">10</text>
<text x="0" y="0" font-size="2.5" fill="#666" transform="translate(24.1 212.8) rotate(-90)">2</text>
<text x="90.3" y="273.7" font-size="3.6" fill="#666">10</text>
<text x="94.3" y="271.9" font-size="2.4" fill="#777">2</text>
<text x="0" y="0" font-size="3.8" fill="#555" transform="translate(26.3 189.2) rotate(-90)">10</text>
<text x="0" y="0" font-size="2.5" fill="#666" transform="translate(24.1 185.6) rotate(-90)">3</text>
<text x="122.3" y="273.7" font-size="3.6" fill="#666">10</text>
<text x="126.3" y="271.9" font-size="2.4" fill="#777">3</text>
<text x="0" y="0" font-size="3.8" fill="#555" transform="translate(26.3 161.9) rotate(-90)">10</text>
<text x="0" y="0" font-size="2.5" fill="#666" transform="translate(24.1 158.3) rotate(-90)">4</text>
<text x="154.3" y="273.7" font-size="3.6" fill="#666">10</text>
<text x="158.3" y="271.9" font-size="2.4" fill="#777">4</text>
<text x="83.7" y="155.2" font-size="7.2" font-weight="bold" text-anchor="start" fill="#111" >24h</text>
<g filter="url(#soft)">
<path fill="#78f878" d="M106 216h1v1h-1zM113 216h2v1h-2zM118 216h1v1h-1zM120 216h1v1h-1zM91 218h1v1h-1zM94 218h1v1h-1zM111 218h1v1h-1zM114 218h1v1h-1zM119 218h1v1h-1zM121 218h1v1h-1zM91 219h2v1h-2zM101 219h1v1h-1zM114 219h1v1h-1zM118 219h1v1h-1zM123 219h1v1h-1zM90 220h1v1h-1zM96 220h1v1h-1zM100 220h1v1h-1zM114 220h1v1h-1zM116 220h1v1h-1zM120 220h2v1h-2zM129 220h1v1h-1zM134 220h1v1h-1zM93 221h1v1h-1zM109 221h1v1h-1zM111 221h1v1h-1zM120 221h1v1h-1zM125 221h1v1h-1zM129 221h1v1h-1zM90 222h1v1h-1zM106 222h1v1h-1zM117 222h2v1h-2zM121 222h1v1h-1zM95 223h1v1h-1zM112 223h1v1h-1zM118 223h1v1h-1zM120 223h1v1h-1zM123 223h1v1h-1zM129 223h1v1h-1zM92 224h1v1h-1zM95 224h1v1h-1zM97 224h1v1h-1zM101 224h1v1h-1zM111 224h1v1h-1zM115 224h4v1h-4zM123 224h1v1h-1zM126 224h1v1h-1zM128 224h1v1h-1zM111 225h1v1h-1zM120 225h1v1h-1zM123 225h3v1h-3zM129 225h1v1h-1zM97 226h1v1h-1zM103 226h1v1h-1zM105 226h2v1h-2zM108 226h1v1h-1zM110 226h1v1h-1zM114 226h1v1h-1zM119 226h2v1h-2zM123 226h1v1h-1zM126 226h1v1h-1zM135 226h1v1h-1zM93 227h1v1h-1zM103 227h2v1h-2zM107 227h1v1h-1zM114 227h4v1h-4zM120 227h1v1h-1zM124 227h2v1h-2zM96 228h1v1h-1zM104 228h1v1h-1zM108 228h2v1h-2zM112 228h1v1h-1zM114 228h1v1h-1zM129 228h1v1h-1zM96 229h2v1h-2zM100 229h2v1h-2zM107 229h1v1h-1zM112 229h1v1h-1zM118 229h1v1h-1zM120 229h1v1h-1zM122 229h2v1h-2zM125 229h1v1h-1zM128 229h2v1h-2zM131 229h1v1h-1zM89 230h1v1h-1zM94 230h1v1h-1zM97 230h1v1h-1zM108 230h1v1h-1zM112 230h1v1h-1zM114 230h1v1h-1zM116 230h1v1h-1zM121 230h1v1h-1zM125 230h3v1h-3zM131 230h2v1h-2zM93 231h3v1h-3zM99 231h1v1h-1zM110 231h2v1h-2zM122 231h1v1h-1zM126 231h1v1h-1zM129 231h1v1h-1zM85 232h1v1h-1zM95 232h2v1h-2zM101 232h2v1h-2zM110 232h1v1h-1zM112 232h1v1h-1zM116 232h1v1h-1zM124 232h2v1h-2zM129 232h2v1h-2zM92 233h1v1h-1zM99 233h1v1h-1zM104 233h1v1h-1zM106 233h2v1h-2zM111 233h1v1h-1zM113 233h1v1h-1zM115 233h1v1h-1zM120 233h1v1h-1zM123 233h3v1h-3zM131 233h1v1h-1zM102 234h1v1h-1zM107 234h1v1h-1zM112 234h1v1h-1zM125 234h1v1h-1zM132 234h1v1h-1zM80 235h1v1h-1zM92 235h1v1h-1zM99 235h1v1h-1zM109 235h1v1h-1zM111 235h2v1h-2zM126 235h1v1h-1zM133 235h1v1h-1zM103 236h1v1h-1zM105 236h1v1h-1zM122 236h1v1h-1zM125 236h1v1h-1zM127 236h1v1h-1zM133 236h1v1h-1zM83 237h2v1h-2zM101 237h1v1h-1zM105 237h1v1h-1zM109 237h1v1h-1zM113 237h1v1h-1zM124 237h1v1h-1zM127 237h1v1h-1zM135 237h2v1h-2zM79 238h1v1h-1zM101 238h3v1h-3zM107 238h1v1h-1zM122 238h1v1h-1zM127 238h3v1h-3zM135 238h1v1h-1zM79 239h1v1h-1zM101 239h1v1h-1zM105 239h1v1h-1zM108 239h1v1h-1zM126 239h2v1h-2zM131 239h1v1h-1zM71 240h1v1h-1zM75 240h1v1h-1zM78 240h1v1h-1zM80 240h1v1h-1zM101 240h2v1h-2zM106 240h1v1h-1zM108 240h1v1h-1zM130 240h2v1h-2zM76 241h1v1h-1zM100 241h1v1h-1zM134 241h1v1h-1zM75 242h1v1h-1zM101 242h5v1h-5zM107 242h1v1h-1zM129 242h1v1h-1zM72 243h1v1h-1zM75 243h1v1h-1zM101 243h2v1h-2zM109 243h1v1h-1zM129 243h1v1h-1zM131 243h1v1h-1zM135 243h1v1h-1zM97 244h1v1h-1zM99 244h3v1h-3zM105 244h2v1h-2zM130 244h1v1h-1zM133 244h2v1h-2zM138 244h1v1h-1zM99 245h1v1h-1zM104 245h1v1h-1zM106 245h2v1h-2zM132 245h1v1h-1zM99 246h1v1h-1zM102 246h2v1h-2zM106 246h1v1h-1zM130 246h1v1h-1zM99 247h1v1h-1zM104 247h1v1h-1zM131 247h1v1h-1zM133 247h1v1h-1zM138 247h1v1h-1zM100 248h1v1h-1zM131 248h3v1h-3zM137 248h1v1h-1zM101 249h1v1h-1zM106 249h1v1h-1zM129 249h2v1h-2zM132 249h2v1h-2zM102 250h1v1h-1zM104 250h2v1h-2zM126 250h1v1h-1zM128 250h2v1h-2zM131 250h1v1h-1zM134 250h1v1h-1zM104 251h2v1h-2zM110 251h1v1h-1zM127 251h1v1h-1zM129 251h2v1h-2zM132 251h1v1h-1zM135 251h1v1h-1zM104 252h1v1h-1zM126 252h1v1h-1zM131 252h1v1h-1zM133 252h2v1h-2zM104 253h1v1h-1zM128 253h1v1h-1zM103 254h1v1h-1zM104 255h1v1h-1zM106 255h1v1h-1zM128 255h1v1h-1zM130 255h1v1h-1zM132 255h1v1h-1zM102 256h1v1h-1zM106 256h1v1h-1zM127 256h1v1h-1zM129 256h2v1h-2zM100 257h1v1h-1zM104 257h1v1h-1zM127 257h2v1h-2zM130 257h1v1h-1zM100 258h2v1h-2zM106 258h1v1h-1zM132 258h1v1h-1zM99 259h1v1h-1zM105 259h1v1h-1zM129 259h2v1h-2zM132 259h1v1h-1zM134 259h1v1h-1zM99 260h1v1h-1zM105 260h1v1h-1zM108 260h1v1h-1zM128 260h1v1h-1zM130 260h2v1h-2zM103 261h1v1h-1zM107 261h1v1h-1zM126 261h1v1h-1zM128 261h2v1h-2zM131 261h1v1h-1zM104 262h2v1h-2zM110 262h1v1h-1zM115 262h1v1h-1zM127 262h1v1h-1zM106 263h1v1h-1zM128 263h2v1h-2zM132 263h1v1h-1zM92 264h1v1h-1zM105 264h1v1h-1zM107 264h1v1h-1zM109 264h2v1h-2zM116 264h1v1h-1zM123 264h4v1h-4zM132 264h1v1h-1zM98 265h1v1h-1zM104 265h1v1h-1zM108 265h1v1h-1zM114 265h1v1h-1zM123 265h1v1h-1zM125 265h1v1h-1zM128 265h1v1h-1zM133 265h1v1h-1zM102 266h2v1h-2zM122 266h1v1h-1zM124 266h2v1h-2zM127 266h1v1h-1zM103 267h1v1h-1zM107 267h1v1h-1zM110 267h1v1h-1zM122 267h2v1h-2zM129 267h1v1h-1zM131 267h1v1h-1z"/>
<path fill="#06fa06" d="M115 220h1v1h-1zM119 220h1v1h-1zM114 222h1v1h-1zM119 222h1v1h-1zM127 222h1v1h-1zM119 223h1v1h-1zM126 223h1v1h-1zM108 224h1v1h-1zM119 224h1v1h-1zM125 224h1v1h-1zM110 225h1v1h-1zM119 225h1v1h-1zM112 226h1v1h-1zM118 226h1v1h-1zM125 226h1v1h-1zM118 227h1v1h-1zM121 227h1v1h-1zM97 228h1v1h-1zM105 228h1v1h-1zM111 228h1v1h-1zM113 228h1v1h-1zM116 228h8v1h-8zM125 228h2v1h-2zM132 228h1v1h-1zM110 229h2v1h-2zM113 229h3v1h-3zM119 229h1v1h-1zM121 229h1v1h-1zM130 229h1v1h-1zM110 230h2v1h-2zM113 230h1v1h-1zM117 230h3v1h-3zM122 230h3v1h-3zM128 230h1v1h-1zM105 231h1v1h-1zM109 231h1v1h-1zM112 231h10v1h-10zM123 231h2v1h-2zM127 231h1v1h-1zM130 231h1v1h-1zM108 232h2v1h-2zM111 232h1v1h-1zM113 232h3v1h-3zM117 232h4v1h-4zM122 232h2v1h-2zM126 232h1v1h-1zM108 233h2v1h-2zM112 233h1v1h-1zM114 233h1v1h-1zM116 233h4v1h-4zM121 233h2v1h-2zM126 233h3v1h-3zM85 234h1v1h-1zM108 234h4v1h-4zM113 234h12v1h-12zM130 234h1v1h-1zM91 235h1v1h-1zM105 235h1v1h-1zM107 235h1v1h-1zM110 235h1v1h-1zM113 235h13v1h-13zM128 235h2v1h-2zM104 236h1v1h-1zM108 236h14v1h-14zM123 236h2v1h-2zM126 236h1v1h-1zM128 236h1v1h-1zM107 237h1v1h-1zM110 237h3v1h-3zM114 237h10v1h-10zM125 237h2v1h-2zM130 237h1v1h-1zM106 238h1v1h-1zM108 238h14v1h-14zM123 238h4v1h-4zM107 239h1v1h-1zM109 239h17v1h-17zM128 239h2v1h-2zM132 239h1v1h-1zM103 240h3v1h-3zM107 240h1v1h-1zM109 240h21v1h-21zM106 241h22v1h-22zM129 241h2v1h-2zM106 242h1v1h-1zM108 242h20v1h-20zM105 243h3v1h-3zM110 243h19v1h-19zM130 243h1v1h-1zM107 244h21v1h-21zM129 244h1v1h-1zM103 245h1v1h-1zM108 245h22v1h-22zM134 245h1v1h-1zM104 246h2v1h-2zM107 246h22v1h-22zM132 246h1v1h-1zM103 247h1v1h-1zM105 247h1v1h-1zM107 247h23v1h-23zM102 248h29v1h-29zM103 249h1v1h-1zM105 249h1v1h-1zM107 249h22v1h-22zM103 250h1v1h-1zM106 250h20v1h-20zM127 250h1v1h-1zM103 251h1v1h-1zM106 251h4v1h-4zM111 251h16v1h-16zM128 251h1v1h-1zM131 251h1v1h-1zM134 251h1v1h-1zM101 252h3v1h-3zM106 252h20v1h-20zM127 252h4v1h-4zM102 253h1v1h-1zM105 253h23v1h-23zM129 253h1v1h-1zM133 253h1v1h-1zM102 254h1v1h-1zM105 254h25v1h-25zM132 254h1v1h-1zM105 255h1v1h-1zM107 255h20v1h-20zM105 256h1v1h-1zM107 256h20v1h-20zM103 257h1v1h-1zM105 257h22v1h-22zM104 258h2v1h-2zM107 258h24v1h-24zM106 259h20v1h-20zM127 259h2v1h-2zM100 260h1v1h-1zM104 260h1v1h-1zM106 260h2v1h-2zM109 260h15v1h-15zM125 260h2v1h-2zM108 261h16v1h-16zM125 261h1v1h-1zM127 261h1v1h-1zM106 262h4v1h-4zM111 262h4v1h-4zM117 262h2v1h-2zM120 262h5v1h-5zM126 262h1v1h-1zM107 263h20v1h-20zM104 264h1v1h-1zM106 264h1v1h-1zM108 264h1v1h-1zM111 264h5v1h-5zM117 264h6v1h-6zM127 264h1v1h-1zM106 265h2v1h-2zM109 265h5v1h-5zM115 265h7v1h-7zM107 266h1v1h-1zM109 266h13v1h-13zM126 266h1v1h-1zM128 266h1v1h-1zM111 267h7v1h-7zM119 267h3v1h-3zM124 267h2v1h-2zM127 267h1v1h-1z"/>
<path fill="#f57a68" d="M126 169h1v1h-1zM125 170h1v1h-1zM117 172h2v1h-2zM123 172h1v1h-1zM110 173h1v1h-1zM119 173h2v1h-2zM125 173h1v1h-1zM115 174h1v1h-1zM118 174h1v1h-1zM127 174h1v1h-1zM109 175h2v1h-2zM113 175h1v1h-1zM115 175h1v1h-1zM117 175h1v1h-1zM123 175h2v1h-2zM127 175h1v1h-1zM108 176h1v1h-1zM110 176h1v1h-1zM113 176h1v1h-1zM115 176h1v1h-1zM118 176h1v1h-1zM129 176h1v1h-1zM108 177h1v1h-1zM111 177h3v1h-3zM115 177h1v1h-1zM123 177h1v1h-1zM125 177h1v1h-1zM127 177h1v1h-1zM101 178h2v1h-2zM105 178h1v1h-1zM122 178h1v1h-1zM125 178h1v1h-1zM106 179h1v1h-1zM114 179h1v1h-1zM121 179h2v1h-2zM104 180h1v1h-1zM106 180h3v1h-3zM112 180h1v1h-1zM117 180h1v1h-1zM103 181h3v1h-3zM117 181h1v1h-1zM120 181h1v1h-1zM96 182h1v1h-1zM108 182h2v1h-2zM113 182h1v1h-1zM117 182h1v1h-1zM97 183h1v1h-1zM104 183h2v1h-2zM107 183h1v1h-1zM110 183h1v1h-1zM112 183h2v1h-2zM116 183h1v1h-1zM119 183h1v1h-1zM102 184h4v1h-4zM110 184h1v1h-1zM115 184h1v1h-1zM101 185h2v1h-2zM110 185h1v1h-1zM113 185h1v1h-1zM117 185h1v1h-1zM121 185h1v1h-1zM99 186h2v1h-2zM103 186h1v1h-1zM111 186h1v1h-1zM102 187h1v1h-1zM104 187h1v1h-1zM107 187h1v1h-1zM109 187h1v1h-1zM112 187h1v1h-1zM125 187h1v1h-1zM127 187h1v1h-1zM105 188h1v1h-1zM109 188h2v1h-2zM112 188h2v1h-2zM96 189h1v1h-1zM101 189h1v1h-1zM108 189h1v1h-1zM113 189h1v1h-1zM115 189h1v1h-1zM117 189h2v1h-2zM125 189h1v1h-1zM98 190h1v1h-1zM122 190h1v1h-1zM129 190h1v1h-1zM109 191h1v1h-1zM114 191h1v1h-1zM117 191h1v1h-1zM122 191h1v1h-1zM107 192h1v1h-1zM111 192h1v1h-1zM125 192h1v1h-1zM101 193h1v1h-1zM104 193h1v1h-1zM115 193h2v1h-2zM124 193h1v1h-1zM98 194h1v1h-1zM106 194h4v1h-4zM112 194h2v1h-2zM118 194h1v1h-1zM125 194h1v1h-1zM114 195h1v1h-1zM97 196h1v1h-1zM120 196h1v1h-1zM122 196h1v1h-1zM116 197h1v1h-1zM125 197h1v1h-1zM94 198h1v1h-1zM106 198h1v1h-1zM117 198h1v1h-1zM125 198h1v1h-1zM93 199h1v1h-1zM107 199h1v1h-1zM109 199h1v1h-1zM120 199h1v1h-1zM100 200h1v1h-1zM126 200h1v1h-1zM97 201h1v1h-1zM104 201h1v1h-1zM111 201h1v1h-1zM127 201h1v1h-1zM102 202h3v1h-3zM123 202h1v1h-1zM110 203h1v1h-1zM115 203h1v1h-1zM109 204h1v1h-1zM113 204h1v1h-1zM104 205h1v1h-1zM108 205h1v1h-1zM115 205h1v1h-1zM101 206h1v1h-1zM103 206h1v1h-1zM107 206h1v1h-1zM118 206h1v1h-1zM126 206h1v1h-1zM96 207h1v1h-1zM108 207h1v1h-1zM111 207h1v1h-1zM115 207h1v1h-1zM120 207h1v1h-1zM124 207h1v1h-1zM127 207h1v1h-1zM106 208h1v1h-1zM108 208h2v1h-2zM119 208h1v1h-1zM101 209h2v1h-2zM109 209h1v1h-1zM115 209h1v1h-1zM130 209h1v1h-1zM126 210h1v1h-1zM99 211h1v1h-1zM101 211h1v1h-1zM109 211h1v1h-1zM120 211h1v1h-1zM129 211h2v1h-2zM102 212h2v1h-2zM109 212h2v1h-2zM116 212h1v1h-1zM130 212h1v1h-1zM113 213h1v1h-1zM115 213h1v1h-1zM118 213h1v1h-1zM125 213h2v1h-2zM103 214h1v1h-1zM126 214h1v1h-1zM130 214h1v1h-1zM107 215h1v1h-1zM106 216h2v1h-2zM126 216h1v1h-1zM97 217h1v1h-1zM102 217h1v1h-1zM105 217h1v1h-1zM111 217h1v1h-1zM117 218h1v1h-1zM129 218h1v1h-1z"/>
<path fill="#f0220c" d="M116 173h1v1h-1zM118 173h1v1h-1zM122 173h1v1h-1zM121 174h1v1h-1zM123 174h1v1h-1zM114 175h1v1h-1zM116 175h1v1h-1zM119 175h4v1h-4zM129 175h1v1h-1zM111 176h2v1h-2zM116 176h1v1h-1zM119 176h1v1h-1zM121 176h2v1h-2zM124 176h1v1h-1zM110 177h1v1h-1zM114 177h1v1h-1zM116 177h6v1h-6zM124 177h1v1h-1zM109 178h13v1h-13zM108 179h6v1h-6zM115 179h2v1h-2zM118 179h2v1h-2zM124 179h1v1h-1zM105 180h1v1h-1zM109 180h3v1h-3zM113 180h4v1h-4zM118 180h3v1h-3zM123 180h1v1h-1zM110 181h7v1h-7zM118 181h1v1h-1zM104 182h1v1h-1zM106 182h2v1h-2zM110 182h3v1h-3zM114 182h3v1h-3zM106 183h1v1h-1zM109 183h1v1h-1zM118 183h1v1h-1zM111 184h1v1h-1zM113 184h2v1h-2zM108 185h2v1h-2zM120 185h1v1h-1zM116 186h1v1h-1zM100 187h1v1h-1zM110 187h1v1h-1zM104 206h1v1h-1zM128 207h1v1h-1zM112 214h1v1h-1z"/>
</g>
<path d="M168.5 161.5H296.5V268.5" fill="none" stroke="#d0d0d0" stroke-width="1"/>
<path d="M168.5 161.5V268.5" fill="none" stroke="#909090" stroke-width="1"/>
<path d="M168.5 268.5H296.5" fill="none" stroke="#b0b0b0" stroke-width="1"/>
<path d="M167.8 260.4h1.4M178.1 269.2v-1.4M167.8 255.7h1.4M183.8 269.2v-1.4M167.8 252.4h1.4M187.8 269.2v-1.4M167.8 249.8h1.4M190.9 269.2v-1.4M167.8 247.7h1.4M193.4 269.2v-1.4M167.8 245.9h1.4M195.5 269.2v-1.4M167.8 244.3h1.4M197.4 269.2v-1.4M167.8 243.0h1.4M199.0 269.2v-1.4M167.8 233.7h1.4M210.1 269.2v-1.4M167.8 229.0h1.4M215.8 269.2v-1.4M167.8 225.6h1.4M219.8 269.2v-1.4M167.8 223.1h1.4M222.9 269.2v-1.4M167.8 220.9h1.4M225.4 269.2v-1.4M167.8 219.1h1.4M227.5 269.2v-1.4M167.8 217.6h1.4M229.4 269.2v-1.4M167.8 216.2h1.4M231.0 269.2v-1.4M167.8 206.9h1.4M242.1 269.2v-1.4M167.8 202.2h1.4M247.8 269.2v-1.4M167.8 198.9h1.4M251.8 269.2v-1.4M167.8 196.3h1.4M254.9 269.2v-1.4M167.8 194.2h1.4M257.4 269.2v-1.4M167.8 192.4h1.4M259.5 269.2v-1.4M167.8 190.8h1.4M261.4 269.2v-1.4M167.8 189.5h1.4M263.0 269.2v-1.4M167.8 180.2h1.4M274.1 269.2v-1.4M167.8 175.5h1.4M279.8 269.2v-1.4M167.8 172.1h1.4M283.8 269.2v-1.4M167.8 169.6h1.4M286.9 269.2v-1.4M167.8 167.4h1.4M289.4 269.2v-1.4M167.8 165.6h1.4M291.5 269.2v-1.4M167.8 164.1h1.4M293.4 269.2v-1.4M167.8 162.7h1.4M295.0 269.2v-1.4M167.0 268.5h2M168.5 269.7v-2M167.0 241.8h2M200.5 269.7v-2M167.0 215.0h2M232.5 269.7v-2M167.0 188.2h2M264.5 269.7v-2M167.0 161.5h2M296.5 269.7v-2" stroke="#444" stroke-width="0.7" fill="none"/>
<text x="0" y="0" font-size="3.8" fill="#555" transform="translate(166.3 270.9) rotate(-90)">10</text>
<text x="0" y="0" font-size="2.5" fill="#666" transform="translate(164.1 267.3) rotate(-90)">0</text>
<text x="166.3" y="273.7" font-size="3.6" fill="#666">10</text>
<text x="170.3" y="271.9" font-size="2.4" fill="#777">0</text>
<text x="0" y="0" font-size="3.8" fill="#555" transform="translate(166.3 244.2) rotate(-90)">10</text>
<text x="0" y="0" font-size="2.5" fill="#666" transform="translate(164.1 240.6) rotate(-90)">1</text>
<text x="198.3" y="273.7" font-size="3.6" fill="#666">10</text>
<text x="202.3" y="271.9" font-size="2.4" fill="#777">1</text>
<text x="0" y="0" font-size="3.8" fill="#555" transform="translate(166.3 217.4) rotate(-90)">10</text>
<text x="0" y="0" font-size="2.5" fill="#666" transform="translate(164.1 213.8) rotate(-90)">2</text>
<text x="230.3" y="273.7" font-size="3.6" fill="#666">10</text>
<text x="234.3" y="271.9" font-size="2.4" fill="#777">2</text>
<text x="0" y="0" font-size="3.8" fill="#555" transform="translate(166.3 190.7) rotate(-90)">10</text>
<text x="0" y="0" font-size="2.5" fill="#666" transform="translate(164.1 187.1) rotate(-90)">3</text>
<text x="262.3" y="273.7" font-size="3.6" fill="#666">10</text>
<text x="266.3" y="271.9" font-size="2.4" fill="#777">3</text>
<text x="0" y="0" font-size="3.8" fill="#555" transform="translate(166.3 163.9) rotate(-90)">10</text>
<text x="0" y="0" font-size="2.5" fill="#666" transform="translate(164.1 160.3) rotate(-90)">4</text>
<text x="294.3" y="273.7" font-size="3.6" fill="#666">10</text>
<text x="298.3" y="271.9" font-size="2.4" fill="#777">4</text>
<text x="222.2" y="157.4" font-size="7.2" font-weight="bold" text-anchor="start" fill="#111" >48h</text>
<g filter="url(#soft)">
<path fill="#78f878" d="M234 218h4v1h-4zM241 218h1v1h-1zM255 218h2v1h-2zM258 218h2v1h-2zM261 218h1v1h-1zM264 218h2v1h-2zM267 218h1v1h-1zM234 219h1v1h-1zM240 219h3v1h-3zM251 219h3v1h-3zM255 219h1v1h-1zM257 219h1v1h-1zM262 219h1v1h-1zM231 220h1v1h-1zM240 220h1v1h-1zM242 220h1v1h-1zM249 220h1v1h-1zM253 220h2v1h-2zM256 220h1v1h-1zM260 220h2v1h-2zM265 220h1v1h-1zM269 220h1v1h-1zM229 221h1v1h-1zM236 221h1v1h-1zM249 221h2v1h-2zM252 221h1v1h-1zM256 221h1v1h-1zM260 221h2v1h-2zM265 221h1v1h-1zM268 221h1v1h-1zM237 222h1v1h-1zM240 222h1v1h-1zM244 222h1v1h-1zM250 222h1v1h-1zM253 222h1v1h-1zM258 222h1v1h-1zM261 222h1v1h-1zM263 222h1v1h-1zM266 222h1v1h-1zM239 223h1v1h-1zM241 223h1v1h-1zM243 223h1v1h-1zM245 223h1v1h-1zM247 223h2v1h-2zM250 223h1v1h-1zM252 223h1v1h-1zM256 223h1v1h-1zM259 223h1v1h-1zM262 223h1v1h-1zM265 223h1v1h-1zM268 223h1v1h-1zM230 224h1v1h-1zM237 224h1v1h-1zM241 224h1v1h-1zM244 224h3v1h-3zM248 224h2v1h-2zM252 224h1v1h-1zM255 224h1v1h-1zM263 224h3v1h-3zM230 225h1v1h-1zM232 225h1v1h-1zM236 225h1v1h-1zM243 225h2v1h-2zM247 225h1v1h-1zM255 225h2v1h-2zM261 225h1v1h-1zM264 225h1v1h-1zM266 225h2v1h-2zM229 226h1v1h-1zM240 226h1v1h-1zM242 226h2v1h-2zM248 226h1v1h-1zM256 226h1v1h-1zM226 227h1v1h-1zM230 227h1v1h-1zM235 227h1v1h-1zM238 227h2v1h-2zM242 227h1v1h-1zM244 227h1v1h-1zM246 227h2v1h-2zM252 227h1v1h-1zM258 227h1v1h-1zM262 227h1v1h-1zM264 227h1v1h-1zM271 227h1v1h-1zM228 228h2v1h-2zM234 228h1v1h-1zM238 228h1v1h-1zM241 228h1v1h-1zM243 228h1v1h-1zM246 228h1v1h-1zM249 228h2v1h-2zM271 228h1v1h-1zM228 229h1v1h-1zM238 229h2v1h-2zM241 229h1v1h-1zM246 229h1v1h-1zM248 229h1v1h-1zM264 229h2v1h-2zM267 229h1v1h-1zM227 230h1v1h-1zM229 230h1v1h-1zM231 230h1v1h-1zM243 230h1v1h-1zM246 230h2v1h-2zM267 230h1v1h-1zM269 230h1v1h-1zM275 230h1v1h-1zM225 231h2v1h-2zM228 231h1v1h-1zM232 231h1v1h-1zM237 231h1v1h-1zM241 231h2v1h-2zM244 231h1v1h-1zM261 231h1v1h-1zM266 231h1v1h-1zM225 232h1v1h-1zM227 232h1v1h-1zM239 232h1v1h-1zM241 232h1v1h-1zM248 232h1v1h-1zM263 232h2v1h-2zM266 232h4v1h-4zM227 233h1v1h-1zM231 233h1v1h-1zM235 233h1v1h-1zM238 233h3v1h-3zM242 233h1v1h-1zM244 233h1v1h-1zM247 233h1v1h-1zM264 233h1v1h-1zM266 233h2v1h-2zM276 233h1v1h-1zM226 234h2v1h-2zM231 234h1v1h-1zM241 234h3v1h-3zM246 234h1v1h-1zM250 234h1v1h-1zM264 234h1v1h-1zM266 234h2v1h-2zM270 234h1v1h-1zM223 235h1v1h-1zM226 235h1v1h-1zM233 235h1v1h-1zM235 235h1v1h-1zM238 235h1v1h-1zM246 235h1v1h-1zM269 235h1v1h-1zM275 235h2v1h-2zM224 236h1v1h-1zM230 236h1v1h-1zM232 236h1v1h-1zM242 236h3v1h-3zM268 236h5v1h-5zM224 237h1v1h-1zM226 237h1v1h-1zM237 237h1v1h-1zM242 237h2v1h-2zM248 237h1v1h-1zM266 237h2v1h-2zM221 238h1v1h-1zM240 238h1v1h-1zM267 238h2v1h-2zM220 239h1v1h-1zM224 239h1v1h-1zM232 239h2v1h-2zM237 239h1v1h-1zM240 239h2v1h-2zM245 239h1v1h-1zM266 239h2v1h-2zM234 240h1v1h-1zM236 240h1v1h-1zM238 240h1v1h-1zM242 240h2v1h-2zM246 240h2v1h-2zM229 241h1v1h-1zM240 241h1v1h-1zM262 241h1v1h-1zM265 241h1v1h-1zM218 242h1v1h-1zM220 242h1v1h-1zM228 242h1v1h-1zM236 242h2v1h-2zM240 242h1v1h-1zM269 242h1v1h-1zM271 242h1v1h-1zM217 243h2v1h-2zM229 243h1v1h-1zM235 243h1v1h-1zM241 243h1v1h-1zM243 243h1v1h-1zM268 243h1v1h-1zM270 243h1v1h-1zM226 244h1v1h-1zM229 244h1v1h-1zM237 244h1v1h-1zM239 244h1v1h-1zM264 244h1v1h-1zM266 244h1v1h-1zM274 244h1v1h-1zM226 245h1v1h-1zM228 245h1v1h-1zM236 245h1v1h-1zM239 245h1v1h-1zM243 245h2v1h-2zM246 245h1v1h-1zM264 245h1v1h-1zM268 245h1v1h-1zM227 246h2v1h-2zM245 246h1v1h-1zM267 246h2v1h-2zM270 246h1v1h-1zM235 247h1v1h-1zM241 247h1v1h-1zM263 247h1v1h-1zM270 247h3v1h-3zM274 247h1v1h-1zM214 248h1v1h-1zM216 248h1v1h-1zM228 248h2v1h-2zM233 248h3v1h-3zM238 248h1v1h-1zM241 248h2v1h-2zM268 248h1v1h-1zM217 249h1v1h-1zM226 249h1v1h-1zM235 249h1v1h-1zM240 249h1v1h-1zM242 249h1v1h-1zM245 249h1v1h-1zM271 249h1v1h-1zM214 250h2v1h-2zM217 250h1v1h-1zM230 250h2v1h-2zM247 250h1v1h-1zM266 250h1v1h-1zM270 250h3v1h-3zM215 251h1v1h-1zM230 251h1v1h-1zM234 251h1v1h-1zM237 251h1v1h-1zM239 251h1v1h-1zM244 251h1v1h-1zM263 251h1v1h-1zM267 251h1v1h-1zM271 251h1v1h-1zM213 252h1v1h-1zM231 252h1v1h-1zM236 252h1v1h-1zM240 252h2v1h-2zM243 252h1v1h-1zM266 252h1v1h-1zM268 252h1v1h-1zM270 252h1v1h-1zM274 252h1v1h-1zM211 253h2v1h-2zM234 253h1v1h-1zM239 253h2v1h-2zM243 253h2v1h-2zM263 253h1v1h-1zM270 253h1v1h-1zM272 253h1v1h-1zM212 254h1v1h-1zM229 254h1v1h-1zM235 254h1v1h-1zM241 254h1v1h-1zM243 254h1v1h-1zM267 254h3v1h-3zM214 255h1v1h-1zM235 255h1v1h-1zM238 255h1v1h-1zM241 255h1v1h-1zM243 255h1v1h-1zM269 255h1v1h-1zM271 255h1v1h-1zM229 256h1v1h-1zM240 256h1v1h-1zM246 256h1v1h-1zM270 256h1v1h-1zM238 257h2v1h-2zM243 257h1v1h-1zM265 257h3v1h-3zM270 257h1v1h-1zM229 258h1v1h-1zM236 258h2v1h-2zM239 258h1v1h-1zM242 258h2v1h-2zM264 258h1v1h-1zM266 258h1v1h-1zM269 258h1v1h-1zM235 259h1v1h-1zM239 259h1v1h-1zM243 259h1v1h-1zM266 259h1v1h-1zM268 259h1v1h-1zM235 260h2v1h-2zM238 260h3v1h-3zM243 260h1v1h-1zM247 260h1v1h-1zM265 260h1v1h-1zM267 260h1v1h-1zM271 260h1v1h-1zM232 261h1v1h-1zM234 261h1v1h-1zM239 261h1v1h-1zM241 261h1v1h-1zM243 261h1v1h-1zM254 261h2v1h-2zM263 261h1v1h-1zM265 261h1v1h-1zM268 261h2v1h-2zM228 262h1v1h-1zM241 262h1v1h-1zM246 262h2v1h-2zM256 262h1v1h-1zM261 262h1v1h-1zM267 262h1v1h-1zM269 262h1v1h-1zM226 263h1v1h-1zM232 263h1v1h-1zM243 263h1v1h-1zM245 263h1v1h-1zM248 263h1v1h-1zM250 263h1v1h-1zM263 263h1v1h-1zM267 263h2v1h-2zM271 263h1v1h-1zM238 264h2v1h-2zM242 264h1v1h-1zM244 264h1v1h-1zM250 264h1v1h-1zM255 264h1v1h-1zM261 264h2v1h-2zM271 264h1v1h-1zM273 264h1v1h-1zM227 265h1v1h-1zM237 265h1v1h-1zM248 265h1v1h-1zM251 265h1v1h-1zM261 265h1v1h-1zM263 265h1v1h-1zM265 265h2v1h-2zM268 265h1v1h-1zM270 265h1v1h-1zM227 266h1v1h-1zM229 266h4v1h-4zM239 266h1v1h-1zM244 266h1v1h-1zM246 266h2v1h-2zM262 266h1v1h-1zM265 266h2v1h-2zM270 266h2v1h-2z"/>
<path fill="#06fa06" d="M231 218h1v1h-1zM247 218h1v1h-1zM252 218h1v1h-1zM254 219h1v1h-1zM256 219h1v1h-1zM260 219h1v1h-1zM263 219h1v1h-1zM238 220h1v1h-1zM250 220h1v1h-1zM255 220h1v1h-1zM259 220h1v1h-1zM244 221h3v1h-3zM258 221h2v1h-2zM262 221h1v1h-1zM248 222h2v1h-2zM251 222h2v1h-2zM255 222h1v1h-1zM257 222h1v1h-1zM259 222h1v1h-1zM262 222h1v1h-1zM268 222h2v1h-2zM253 223h3v1h-3zM257 223h2v1h-2zM260 223h1v1h-1zM263 223h1v1h-1zM247 224h1v1h-1zM251 224h1v1h-1zM253 224h2v1h-2zM256 224h3v1h-3zM260 224h1v1h-1zM262 224h1v1h-1zM266 224h1v1h-1zM241 225h2v1h-2zM248 225h1v1h-1zM250 225h3v1h-3zM254 225h1v1h-1zM257 225h4v1h-4zM262 225h1v1h-1zM265 225h1v1h-1zM244 226h3v1h-3zM249 226h3v1h-3zM253 226h3v1h-3zM258 226h1v1h-1zM260 226h7v1h-7zM245 227h1v1h-1zM249 227h3v1h-3zM253 227h5v1h-5zM259 227h1v1h-1zM263 227h1v1h-1zM269 227h1v1h-1zM244 228h2v1h-2zM247 228h2v1h-2zM251 228h11v1h-11zM263 228h3v1h-3zM273 228h1v1h-1zM229 229h1v1h-1zM234 229h1v1h-1zM243 229h2v1h-2zM247 229h1v1h-1zM249 229h15v1h-15zM266 229h1v1h-1zM244 230h2v1h-2zM248 230h16v1h-16zM265 230h2v1h-2zM243 231h1v1h-1zM245 231h16v1h-16zM262 231h4v1h-4zM269 231h1v1h-1zM245 232h3v1h-3zM249 232h13v1h-13zM265 232h1v1h-1zM226 233h1v1h-1zM245 233h2v1h-2zM248 233h16v1h-16zM268 233h2v1h-2zM238 234h1v1h-1zM240 234h1v1h-1zM244 234h2v1h-2zM247 234h3v1h-3zM251 234h13v1h-13zM265 234h1v1h-1zM269 234h1v1h-1zM240 235h1v1h-1zM244 235h2v1h-2zM247 235h13v1h-13zM261 235h5v1h-5zM268 235h1v1h-1zM245 236h2v1h-2zM248 236h19v1h-19zM244 237h4v1h-4zM249 237h17v1h-17zM241 238h2v1h-2zM244 238h23v1h-23zM269 238h1v1h-1zM271 238h1v1h-1zM242 239h1v1h-1zM244 239h1v1h-1zM246 239h20v1h-20zM269 239h2v1h-2zM220 240h1v1h-1zM226 240h1v1h-1zM241 240h1v1h-1zM244 240h2v1h-2zM248 240h20v1h-20zM269 240h1v1h-1zM241 241h21v1h-21zM263 241h2v1h-2zM268 241h2v1h-2zM271 241h1v1h-1zM239 242h1v1h-1zM242 242h27v1h-27zM240 243h1v1h-1zM242 243h1v1h-1zM245 243h23v1h-23zM271 243h1v1h-1zM242 244h22v1h-22zM265 244h1v1h-1zM267 244h2v1h-2zM242 245h1v1h-1zM245 245h1v1h-1zM247 245h17v1h-17zM265 245h3v1h-3zM230 246h1v1h-1zM234 246h1v1h-1zM242 246h1v1h-1zM244 246h1v1h-1zM246 246h21v1h-21zM271 246h1v1h-1zM231 247h1v1h-1zM238 247h1v1h-1zM242 247h1v1h-1zM244 247h1v1h-1zM246 247h17v1h-17zM264 247h4v1h-4zM243 248h25v1h-25zM271 248h1v1h-1zM216 249h1v1h-1zM243 249h2v1h-2zM247 249h20v1h-20zM239 250h1v1h-1zM241 250h6v1h-6zM248 250h18v1h-18zM267 250h1v1h-1zM269 250h1v1h-1zM233 251h1v1h-1zM240 251h4v1h-4zM245 251h18v1h-18zM264 251h1v1h-1zM266 251h1v1h-1zM268 251h1v1h-1zM238 252h1v1h-1zM244 252h22v1h-22zM267 252h1v1h-1zM271 252h1v1h-1zM246 253h17v1h-17zM264 253h6v1h-6zM240 254h1v1h-1zM242 254h1v1h-1zM244 254h23v1h-23zM270 254h2v1h-2zM244 255h24v1h-24zM241 256h1v1h-1zM243 256h3v1h-3zM247 256h18v1h-18zM266 256h3v1h-3zM242 257h1v1h-1zM244 257h4v1h-4zM249 257h16v1h-16zM268 257h2v1h-2zM271 257h1v1h-1zM244 258h19v1h-19zM265 258h1v1h-1zM267 258h1v1h-1zM271 258h1v1h-1zM241 259h1v1h-1zM244 259h6v1h-6zM251 259h15v1h-15zM267 259h1v1h-1zM241 260h2v1h-2zM244 260h1v1h-1zM246 260h1v1h-1zM248 260h17v1h-17zM242 261h1v1h-1zM244 261h1v1h-1zM246 261h8v1h-8zM256 261h7v1h-7zM266 261h1v1h-1zM230 262h1v1h-1zM239 262h1v1h-1zM243 262h3v1h-3zM248 262h8v1h-8zM257 262h2v1h-2zM260 262h1v1h-1zM262 262h5v1h-5zM237 263h1v1h-1zM244 263h1v1h-1zM246 263h2v1h-2zM249 263h1v1h-1zM251 263h12v1h-12zM264 263h3v1h-3zM233 264h1v1h-1zM245 264h2v1h-2zM248 264h2v1h-2zM251 264h4v1h-4zM256 264h5v1h-5zM263 264h3v1h-3zM268 264h1v1h-1zM243 265h4v1h-4zM250 265h1v1h-1zM252 265h9v1h-9zM262 265h1v1h-1zM264 265h1v1h-1zM238 266h1v1h-1zM241 266h1v1h-1zM245 266h1v1h-1zM248 266h12v1h-12zM261 266h1v1h-1zM263 266h1v1h-1z"/>
<path fill="#f57a68" d="M256 167h1v1h-1zM262 167h1v1h-1zM257 168h2v1h-2zM266 168h1v1h-1zM252 169h1v1h-1zM261 169h2v1h-2zM267 169h1v1h-1zM270 169h1v1h-1zM242 170h1v1h-1zM249 170h1v1h-1zM251 170h1v1h-1zM253 170h2v1h-2zM262 170h1v1h-1zM266 170h3v1h-3zM248 171h1v1h-1zM250 171h1v1h-1zM252 171h2v1h-2zM256 171h2v1h-2zM260 171h1v1h-1zM265 171h2v1h-2zM250 172h1v1h-1zM252 172h1v1h-1zM264 172h1v1h-1zM231 173h1v1h-1zM241 173h1v1h-1zM244 173h1v1h-1zM246 173h1v1h-1zM248 173h2v1h-2zM251 173h1v1h-1zM257 173h1v1h-1zM262 173h1v1h-1zM265 173h2v1h-2zM244 174h1v1h-1zM247 174h1v1h-1zM249 174h7v1h-7zM258 174h1v1h-1zM260 174h1v1h-1zM262 174h1v1h-1zM264 174h1v1h-1zM242 175h3v1h-3zM247 175h1v1h-1zM249 175h1v1h-1zM254 175h2v1h-2zM258 175h1v1h-1zM260 175h1v1h-1zM263 175h1v1h-1zM265 175h1v1h-1zM267 175h1v1h-1zM241 176h2v1h-2zM244 176h3v1h-3zM250 176h3v1h-3zM261 176h3v1h-3zM267 176h1v1h-1zM235 177h1v1h-1zM240 177h1v1h-1zM245 177h1v1h-1zM249 177h1v1h-1zM258 177h1v1h-1zM263 177h1v1h-1zM268 177h1v1h-1zM270 177h1v1h-1zM241 178h1v1h-1zM243 178h3v1h-3zM248 178h1v1h-1zM251 178h1v1h-1zM255 178h1v1h-1zM262 178h2v1h-2zM265 178h2v1h-2zM269 178h1v1h-1zM271 178h1v1h-1zM237 179h1v1h-1zM241 179h2v1h-2zM249 179h1v1h-1zM255 179h1v1h-1zM257 179h1v1h-1zM260 179h2v1h-2zM267 179h1v1h-1zM269 179h2v1h-2zM234 180h1v1h-1zM236 180h3v1h-3zM244 180h1v1h-1zM252 180h1v1h-1zM258 180h1v1h-1zM264 180h1v1h-1zM266 180h1v1h-1zM229 181h2v1h-2zM236 181h1v1h-1zM238 181h1v1h-1zM249 181h3v1h-3zM262 181h2v1h-2zM226 182h1v1h-1zM229 182h1v1h-1zM232 182h1v1h-1zM245 182h1v1h-1zM251 182h1v1h-1zM254 182h1v1h-1zM257 182h1v1h-1zM264 182h1v1h-1zM268 182h1v1h-1zM270 182h2v1h-2zM230 183h1v1h-1zM232 183h2v1h-2zM236 183h1v1h-1zM239 183h1v1h-1zM244 183h1v1h-1zM246 183h1v1h-1zM254 183h1v1h-1zM257 183h3v1h-3zM263 183h1v1h-1zM267 183h1v1h-1zM228 184h1v1h-1zM231 184h1v1h-1zM235 184h2v1h-2zM240 184h1v1h-1zM264 184h1v1h-1zM270 184h1v1h-1zM229 185h1v1h-1zM231 185h4v1h-4zM243 185h3v1h-3zM248 185h1v1h-1zM252 185h1v1h-1zM254 185h1v1h-1zM256 185h2v1h-2zM259 185h1v1h-1zM262 185h1v1h-1zM267 185h1v1h-1zM228 186h1v1h-1zM233 186h4v1h-4zM242 186h1v1h-1zM256 186h2v1h-2zM261 186h1v1h-1zM264 186h2v1h-2zM268 186h1v1h-1zM227 187h1v1h-1zM237 187h2v1h-2zM244 187h1v1h-1zM247 187h1v1h-1zM249 187h1v1h-1zM253 187h1v1h-1zM257 187h1v1h-1zM259 187h1v1h-1zM261 187h3v1h-3zM265 187h2v1h-2zM228 188h1v1h-1zM233 188h1v1h-1zM237 188h1v1h-1zM249 188h1v1h-1zM253 188h1v1h-1zM259 188h1v1h-1zM262 188h2v1h-2zM270 188h1v1h-1zM229 189h1v1h-1zM233 189h1v1h-1zM236 189h3v1h-3zM241 189h1v1h-1zM243 189h1v1h-1zM245 189h2v1h-2zM250 189h1v1h-1zM252 189h1v1h-1zM255 189h1v1h-1zM258 189h1v1h-1zM260 189h1v1h-1zM262 189h1v1h-1zM264 189h1v1h-1zM267 189h1v1h-1zM269 189h1v1h-1zM228 190h1v1h-1zM232 190h1v1h-1zM234 190h2v1h-2zM240 190h1v1h-1zM243 190h1v1h-1zM245 190h1v1h-1zM247 190h1v1h-1zM251 190h2v1h-2zM254 190h1v1h-1zM257 190h1v1h-1zM259 190h1v1h-1zM263 190h1v1h-1zM266 190h1v1h-1zM229 191h1v1h-1zM232 191h2v1h-2zM235 191h1v1h-1zM237 191h1v1h-1zM239 191h1v1h-1zM247 191h1v1h-1zM249 191h2v1h-2zM252 191h1v1h-1zM254 191h4v1h-4zM260 191h1v1h-1zM269 191h2v1h-2zM226 192h3v1h-3zM231 192h3v1h-3zM235 192h1v1h-1zM237 192h3v1h-3zM241 192h1v1h-1zM249 192h1v1h-1zM252 192h1v1h-1zM257 192h1v1h-1zM263 192h1v1h-1zM230 193h2v1h-2zM234 193h2v1h-2zM237 193h1v1h-1zM239 193h1v1h-1zM241 193h1v1h-1zM243 193h3v1h-3zM247 193h2v1h-2zM251 193h1v1h-1zM262 193h1v1h-1zM268 193h1v1h-1zM226 194h1v1h-1zM228 194h2v1h-2zM233 194h1v1h-1zM235 194h1v1h-1zM237 194h1v1h-1zM240 194h1v1h-1zM244 194h1v1h-1zM249 194h2v1h-2zM252 194h2v1h-2zM261 194h1v1h-1zM265 194h3v1h-3zM270 194h1v1h-1zM231 195h1v1h-1zM234 195h2v1h-2zM237 195h1v1h-1zM239 195h1v1h-1zM241 195h2v1h-2zM248 195h1v1h-1zM250 195h1v1h-1zM252 195h1v1h-1zM258 195h1v1h-1zM263 195h1v1h-1zM229 196h2v1h-2zM233 196h2v1h-2zM236 196h1v1h-1zM246 196h1v1h-1zM249 196h1v1h-1zM253 196h1v1h-1zM255 196h1v1h-1zM258 196h1v1h-1zM265 196h1v1h-1zM228 197h1v1h-1zM233 197h1v1h-1zM235 197h2v1h-2zM238 197h2v1h-2zM243 197h1v1h-1zM246 197h2v1h-2zM252 197h1v1h-1zM254 197h1v1h-1zM259 197h2v1h-2zM264 197h1v1h-1zM227 198h1v1h-1zM231 198h1v1h-1zM237 198h1v1h-1zM240 198h1v1h-1zM242 198h5v1h-5zM250 198h2v1h-2zM254 198h2v1h-2zM227 199h1v1h-1zM237 199h1v1h-1zM240 199h3v1h-3zM244 199h1v1h-1zM251 199h1v1h-1zM267 199h1v1h-1zM228 200h1v1h-1zM233 200h1v1h-1zM237 200h1v1h-1zM239 200h2v1h-2zM245 200h1v1h-1zM248 200h2v1h-2zM251 200h1v1h-1zM254 200h1v1h-1zM259 200h1v1h-1zM229 201h1v1h-1zM232 201h1v1h-1zM236 201h3v1h-3zM240 201h3v1h-3zM249 201h1v1h-1zM253 201h2v1h-2zM258 201h2v1h-2zM263 201h1v1h-1zM227 202h1v1h-1zM229 202h1v1h-1zM232 202h1v1h-1zM237 202h2v1h-2zM241 202h2v1h-2zM245 202h1v1h-1zM247 202h1v1h-1zM250 202h1v1h-1zM254 202h1v1h-1zM256 202h3v1h-3zM263 202h1v1h-1zM227 203h2v1h-2zM231 203h2v1h-2zM236 203h1v1h-1zM238 203h1v1h-1zM243 203h1v1h-1zM246 203h1v1h-1zM249 203h3v1h-3zM262 203h1v1h-1zM226 204h1v1h-1zM228 204h1v1h-1zM234 204h1v1h-1zM237 204h1v1h-1zM240 204h2v1h-2zM246 204h1v1h-1zM250 204h1v1h-1zM261 204h1v1h-1zM265 204h1v1h-1zM227 205h1v1h-1zM229 205h2v1h-2zM234 205h1v1h-1zM238 205h1v1h-1zM240 205h3v1h-3zM244 205h1v1h-1zM247 205h1v1h-1zM249 205h1v1h-1zM268 205h1v1h-1zM226 206h1v1h-1zM229 206h1v1h-1zM233 206h1v1h-1zM235 206h1v1h-1zM239 206h1v1h-1zM246 206h2v1h-2zM251 206h1v1h-1zM253 206h1v1h-1zM257 206h1v1h-1zM259 206h1v1h-1zM268 206h1v1h-1zM229 207h1v1h-1zM233 207h1v1h-1zM235 207h1v1h-1zM239 207h1v1h-1zM244 207h1v1h-1zM246 207h1v1h-1zM257 207h1v1h-1zM265 207h1v1h-1zM227 208h1v1h-1zM232 208h1v1h-1zM235 208h1v1h-1zM243 208h1v1h-1zM247 208h3v1h-3zM254 208h1v1h-1zM256 208h1v1h-1zM258 208h1v1h-1zM261 208h1v1h-1zM263 208h1v1h-1zM265 208h1v1h-1zM228 209h1v1h-1zM231 209h3v1h-3zM237 209h2v1h-2zM245 209h1v1h-1zM247 209h1v1h-1zM264 209h2v1h-2zM269 209h1v1h-1zM232 210h1v1h-1zM236 210h1v1h-1zM240 210h4v1h-4zM247 210h1v1h-1zM257 210h2v1h-2zM260 210h2v1h-2zM263 210h1v1h-1zM266 210h1v1h-1zM269 210h1v1h-1zM227 211h1v1h-1zM230 211h3v1h-3zM234 211h1v1h-1zM244 211h1v1h-1zM246 211h2v1h-2zM252 211h1v1h-1zM256 211h1v1h-1zM258 211h5v1h-5zM267 211h2v1h-2zM227 212h1v1h-1zM229 212h1v1h-1zM237 212h2v1h-2zM244 212h1v1h-1zM247 212h2v1h-2zM258 212h1v1h-1zM260 212h1v1h-1zM263 212h1v1h-1zM267 212h1v1h-1zM270 212h1v1h-1zM227 213h2v1h-2zM241 213h2v1h-2zM249 213h1v1h-1zM256 213h1v1h-1zM234 214h2v1h-2zM242 214h3v1h-3zM249 214h1v1h-1zM256 214h2v1h-2zM260 214h1v1h-1zM265 214h2v1h-2zM269 214h1v1h-1zM226 215h2v1h-2zM233 215h3v1h-3zM246 215h1v1h-1zM248 215h2v1h-2zM252 215h2v1h-2zM255 215h3v1h-3zM260 215h1v1h-1zM228 216h1v1h-1zM237 216h2v1h-2zM250 216h2v1h-2zM255 216h2v1h-2zM258 216h1v1h-1zM262 216h1v1h-1zM227 217h1v1h-1zM229 217h1v1h-1zM231 217h1v1h-1zM233 217h1v1h-1zM242 217h1v1h-1zM244 217h1v1h-1zM246 217h1v1h-1zM249 217h1v1h-1zM251 217h5v1h-5zM258 217h1v1h-1zM226 218h1v1h-1zM241 218h1v1h-1zM244 218h1v1h-1zM246 218h1v1h-1zM250 218h1v1h-1zM256 218h2v1h-2zM259 218h1v1h-1zM262 218h1v1h-1zM264 218h1v1h-1zM270 218h1v1h-1z"/>
<path fill="#f0220c" d="M255 169h1v1h-1zM260 169h1v1h-1zM260 170h1v1h-1zM263 171h1v1h-1zM247 172h1v1h-1zM255 172h1v1h-1zM262 172h2v1h-2zM255 173h1v1h-1zM258 173h1v1h-1zM260 173h1v1h-1zM257 174h1v1h-1zM267 174h1v1h-1zM250 175h2v1h-2zM253 175h1v1h-1zM256 175h2v1h-2zM259 175h1v1h-1zM266 175h1v1h-1zM248 176h1v1h-1zM253 176h1v1h-1zM255 176h3v1h-3zM264 176h1v1h-1zM266 176h1v1h-1zM268 176h1v1h-1zM238 177h1v1h-1zM243 177h2v1h-2zM246 177h3v1h-3zM250 177h5v1h-5zM256 177h2v1h-2zM259 177h2v1h-2zM262 177h1v1h-1zM242 178h1v1h-1zM246 178h2v1h-2zM249 178h2v1h-2zM252 178h3v1h-3zM256 178h4v1h-4zM240 179h1v1h-1zM246 179h3v1h-3zM250 179h5v1h-5zM258 179h2v1h-2zM264 179h2v1h-2zM240 180h4v1h-4zM245 180h1v1h-1zM247 180h3v1h-3zM251 180h1v1h-1zM253 180h3v1h-3zM257 180h1v1h-1zM259 180h1v1h-1zM261 180h1v1h-1zM240 181h2v1h-2zM243 181h3v1h-3zM247 181h2v1h-2zM252 181h4v1h-4zM257 181h3v1h-3zM266 181h2v1h-2zM238 182h2v1h-2zM241 182h2v1h-2zM244 182h1v1h-1zM247 182h4v1h-4zM252 182h2v1h-2zM255 182h2v1h-2zM258 182h1v1h-1zM262 182h2v1h-2zM234 183h2v1h-2zM238 183h1v1h-1zM241 183h1v1h-1zM243 183h1v1h-1zM245 183h1v1h-1zM248 183h2v1h-2zM251 183h3v1h-3zM256 183h1v1h-1zM261 183h1v1h-1zM237 184h2v1h-2zM241 184h4v1h-4zM246 184h10v1h-10zM260 184h4v1h-4zM237 185h1v1h-1zM239 185h3v1h-3zM247 185h1v1h-1zM249 185h2v1h-2zM255 185h1v1h-1zM260 185h1v1h-1zM239 186h3v1h-3zM243 186h11v1h-11zM255 186h1v1h-1zM228 187h2v1h-2zM236 187h1v1h-1zM240 187h2v1h-2zM243 187h1v1h-1zM245 187h1v1h-1zM248 187h1v1h-1zM250 187h3v1h-3zM258 187h1v1h-1zM267 187h1v1h-1zM236 188h1v1h-1zM238 188h1v1h-1zM240 188h5v1h-5zM247 188h1v1h-1zM250 188h3v1h-3zM254 188h2v1h-2zM266 188h1v1h-1zM239 189h2v1h-2zM244 189h1v1h-1zM248 189h2v1h-2zM259 189h1v1h-1zM263 189h1v1h-1zM229 190h1v1h-1zM238 190h1v1h-1zM242 190h1v1h-1zM246 190h1v1h-1zM249 190h1v1h-1zM255 190h1v1h-1zM260 190h1v1h-1zM234 191h1v1h-1zM240 191h1v1h-1zM246 191h1v1h-1zM253 191h1v1h-1zM259 191h1v1h-1zM261 191h1v1h-1zM234 192h1v1h-1zM236 192h1v1h-1zM242 192h2v1h-2zM245 192h1v1h-1zM251 192h1v1h-1zM260 192h1v1h-1zM270 192h1v1h-1zM246 193h1v1h-1zM254 193h1v1h-1zM269 193h1v1h-1zM241 194h1v1h-1zM246 194h3v1h-3zM251 194h1v1h-1zM255 194h1v1h-1zM258 194h1v1h-1zM264 194h1v1h-1zM229 195h1v1h-1zM236 195h1v1h-1zM238 195h1v1h-1zM240 195h1v1h-1zM244 195h1v1h-1zM246 195h2v1h-2zM249 195h1v1h-1zM257 195h1v1h-1zM266 195h1v1h-1zM231 196h1v1h-1zM243 196h1v1h-1zM245 196h1v1h-1zM250 196h3v1h-3zM260 196h1v1h-1zM264 196h1v1h-1zM232 197h1v1h-1zM240 197h1v1h-1zM249 197h1v1h-1zM253 197h1v1h-1zM265 197h1v1h-1zM232 198h1v1h-1zM236 198h1v1h-1zM239 198h1v1h-1zM249 198h1v1h-1zM253 198h1v1h-1zM262 198h1v1h-1zM264 198h2v1h-2zM267 198h1v1h-1zM243 199h1v1h-1zM248 199h1v1h-1zM258 199h2v1h-2zM262 199h1v1h-1zM264 199h1v1h-1zM226 200h1v1h-1zM232 200h1v1h-1zM236 200h1v1h-1zM242 200h2v1h-2zM247 200h1v1h-1zM233 201h1v1h-1zM247 201h1v1h-1zM236 202h1v1h-1zM255 202h1v1h-1zM260 202h1v1h-1zM270 202h1v1h-1zM229 203h2v1h-2zM241 203h1v1h-1zM244 204h1v1h-1zM253 204h1v1h-1zM260 204h1v1h-1zM266 204h1v1h-1zM237 205h1v1h-1zM246 205h1v1h-1zM254 205h1v1h-1zM260 205h1v1h-1zM227 206h1v1h-1zM232 206h1v1h-1zM240 206h1v1h-1zM243 206h1v1h-1zM264 206h1v1h-1zM248 207h1v1h-1zM258 207h1v1h-1zM268 207h1v1h-1zM233 208h1v1h-1zM238 208h1v1h-1zM235 209h1v1h-1zM252 209h1v1h-1zM230 210h1v1h-1zM254 211h1v1h-1zM263 211h1v1h-1zM236 212h1v1h-1zM240 212h1v1h-1zM256 212h1v1h-1zM246 213h1v1h-1zM250 213h1v1h-1zM259 213h1v1h-1zM232 214h1v1h-1zM253 214h1v1h-1zM255 214h1v1h-1zM258 214h1v1h-1zM229 215h1v1h-1zM237 215h1v1h-1zM258 215h1v1h-1zM231 216h1v1h-1zM253 216h1v1h-1zM257 216h1v1h-1zM228 217h1v1h-1zM232 217h1v1h-1zM259 217h1v1h-1zM263 217h1v1h-1zM232 218h1v1h-1z"/>
</g>
<path d="M350.5 28.5H478.5" stroke="#8a8a8a" stroke-width="1.2" fill="none"/>
<path d="M478.5 28.5V137.5" stroke="#a8a8a8" stroke-width="1" fill="none"/>
<path d="M350.5 28.5V137.5" stroke="#a0a0a0" stroke-width="1" fill="none"/>
<path d="M350.5 137.5H478.5" stroke="#606060" stroke-width="1" fill="none"/>
<path d="M350.0 137.5h2.5M350.0 133.1h1.5M350.0 128.8h1.5M350.0 124.4h1.5M350.0 120.1h1.5M350.0 115.7h2.5M350.0 111.3h1.5M350.0 107.0h1.5M350.0 102.6h1.5M350.0 98.3h1.5M350.0 93.9h2.5M350.0 89.5h1.5M350.0 85.2h1.5M350.0 80.8h1.5M350.0 76.5h1.5M350.0 72.1h2.5M350.0 67.7h1.5M350.0 63.4h1.5M350.0 59.0h1.5M350.0 54.7h1.5M350.0 50.3h2.5M350.0 45.9h1.5M350.0 41.6h1.5M350.0 37.2h1.5M350.0 32.9h1.5M350.0 28.5h2.5M350.5 138.0v-2.5M355.6 138.0v-1.5M360.7 138.0v-1.5M365.9 138.0v-1.5M371.0 138.0v-1.5M376.1 138.0v-2.5M381.2 138.0v-1.5M386.3 138.0v-1.5M391.5 138.0v-1.5M396.6 138.0v-1.5M401.7 138.0v-2.5M406.8 138.0v-1.5M411.9 138.0v-1.5M417.1 138.0v-1.5M422.2 138.0v-1.5M427.3 138.0v-2.5M432.4 138.0v-1.5M437.5 138.0v-1.5M442.7 138.0v-1.5M447.8 138.0v-1.5M452.9 138.0v-2.5M458.0 138.0v-1.5M463.1 138.0v-1.5M468.3 138.0v-1.5M473.4 138.0v-1.5M478.5 138.0v-2.5" stroke="#333" stroke-width="0.7" fill="none"/>
<text x="351.0" y="141.8" font-size="3.6" fill="#555" text-anchor="middle">0</text>
<text x="376.6" y="141.8" font-size="3.6" fill="#555" text-anchor="middle">200</text>
<text x="402.2" y="141.8" font-size="3.6" fill="#555" text-anchor="middle">400</text>
<text x="427.8" y="141.8" font-size="3.6" fill="#555" text-anchor="middle">600</text>
<text x="453.4" y="141.8" font-size="3.6" fill="#555" text-anchor="middle">800</text>
<text x="479.0" y="141.8" font-size="3.6" fill="#555" text-anchor="middle">1000</text>
<text x="0" y="0" font-size="3.6" fill="#666" text-anchor="middle" transform="translate(349.0 137.5) rotate(-90)">0</text>
<text x="0" y="0" font-size="3.6" fill="#666" text-anchor="middle" transform="translate(349.0 115.7) rotate(-90)">20</text>
<text x="0" y="0" font-size="3.6" fill="#666" text-anchor="middle" transform="translate(349.0 93.9) rotate(-90)">40</text>
<text x="0" y="0" font-size="3.6" fill="#666" text-anchor="middle" transform="translate(349.0 72.1) rotate(-90)">60</text>
<text x="0" y="0" font-size="3.6" fill="#666" text-anchor="middle" transform="translate(349.0 50.3) rotate(-90)">80</text>
<text x="0" y="0" font-size="3.6" fill="#666" text-anchor="middle" transform="translate(349.0 28.5) rotate(-90)">100</text>
<text x="414.5" y="144.8" font-size="3.4" fill="#666" text-anchor="middle">FL2-A</text>
<text x="0" y="0" font-size="3.4" fill="#777" text-anchor="middle" transform="translate(346.2 82.5) rotate(-90)">Counts</text>
<text x="395.2" y="22.9" font-size="7.2" font-weight="bold" text-anchor="start" fill="#111" >Control</text>
<text x="432.9" y="39.4" font-size="5.15" fill="#141414">SubG0/G1:</text>
<text x="476.7" y="39.4" font-size="5.15" fill="#141414" text-anchor="end">1.35%</text>
<text x="432.9" y="44.4" font-size="5.15" fill="#141414">G0/G1</text>
<text x="456.4" y="44.4" font-size="5.15" fill="#141414">:</text>
<text x="476.7" y="44.4" font-size="5.15" fill="#141414" text-anchor="end">70.15%</text>
<text x="432.9" y="49.4" font-size="5.15" fill="#141414">S</text>
<text x="456.4" y="49.4" font-size="5.15" fill="#141414">:</text>
<text x="476.7" y="49.4" font-size="5.15" fill="#141414" text-anchor="end">17.18%</text>
<text x="432.9" y="54.4" font-size="5.15" fill="#141414">G2/M</text>
<text x="456.4" y="54.4" font-size="5.15" fill="#141414">:</text>
<text x="476.7" y="54.4" font-size="5.15" fill="#141414" text-anchor="end">11.66%</text>
<polygon points="352.00,137.5 352.00,137.50 352.50,137.50 353.00,137.50 353.50,137.50 354.00,137.50 354.50,137.50 355.00,137.50 355.50,137.50 356.00,137.50 356.50,137.50 357.00,137.50 357.50,137.50 358.00,137.50 358.50,137.50 359.00,137.50 359.50,137.49 360.00,137.48 360.50,137.45 361.00,137.40 361.50,137.32 362.00,137.20 362.50,137.08 363.00,137.00 363.50,136.95 364.00,136.92 364.50,136.91 365.00,136.90 365.50,136.90 366.00,136.90 366.50,136.90 367.00,136.90 367.50,136.90 368.00,136.90 368.50,136.90 369.00,136.90 369.50,136.90 370.00,136.90 370.50,136.91 371.00,136.91 371.50,136.90 372.00,136.81 372.50,136.45 373.00,135.45 373.50,133.14 374.00,128.15 374.50,115.18 375.00,85.50 375.50,53.36 376.00,55.86 376.50,84.94 377.00,112.37 377.50,126.51 378.00,131.76 378.50,134.15 379.00,134.30 379.50,135.02 380.00,133.88 380.50,135.63 381.00,134.11 381.50,135.65 382.00,135.20 382.50,134.38 383.00,135.08 383.50,135.92 384.00,135.28 384.50,134.93 385.00,135.08 385.50,134.46 386.00,134.66 386.50,134.91 387.00,134.52 387.50,135.66 388.00,135.25 388.50,136.27 389.00,135.60 389.50,135.34 390.00,136.09 390.50,134.88 391.00,133.29 391.50,133.63 392.00,134.68 392.50,134.02 393.00,135.00 393.50,133.71 394.00,134.07 394.50,133.08 395.00,133.44 395.50,131.86 396.00,131.42 396.50,130.91 397.00,131.98 397.50,132.25 398.00,131.39 398.50,132.49 399.00,132.79 399.50,132.90 400.00,135.09 400.50,134.81 401.00,135.77 401.50,136.45 402.00,136.90 402.50,137.24 403.00,137.38 403.50,137.46 403.50,137.5" fill="#f02306" stroke="#5a0c06" stroke-width="0.45" stroke-linejoin="round"/>
<line x1="360.4" y1="70.1" x2="404.9" y2="70.1" stroke="#555" stroke-width="0.9"/>
<line x1="360.4" y1="66.3" x2="360.4" y2="73.89999999999999" stroke="#444" stroke-width="0.9"/>
<line x1="370.5" y1="66.3" x2="370.5" y2="73.89999999999999" stroke="#444" stroke-width="0.9"/>
<line x1="381.4" y1="66.3" x2="381.4" y2="73.89999999999999" stroke="#444" stroke-width="0.9"/>
<line x1="392.5" y1="66.3" x2="392.5" y2="73.89999999999999" stroke="#444" stroke-width="0.9"/>
<line x1="404.9" y1="66.3" x2="404.9" y2="73.89999999999999" stroke="#444" stroke-width="0.9"/>
<path d="M495.5 29.5H621.5" stroke="#8a8a8a" stroke-width="1.2" fill="none"/>
<path d="M621.5 29.5V137.5" stroke="#a8a8a8" stroke-width="1" fill="none"/>
<path d="M495.5 29.5V137.5" stroke="#a0a0a0" stroke-width="1" fill="none"/>
<path d="M495.5 137.5H621.5" stroke="#606060" stroke-width="1" fill="none"/>
<path d="M495.0 137.5h2.5M495.0 133.2h1.5M495.0 128.9h1.5M495.0 124.5h1.5M495.0 120.2h1.5M495.0 115.9h2.5M495.0 111.6h1.5M495.0 107.3h1.5M495.0 102.9h1.5M495.0 98.6h1.5M495.0 94.3h2.5M495.0 90.0h1.5M495.0 85.7h1.5M495.0 81.3h1.5M495.0 77.0h1.5M495.0 72.7h2.5M495.0 68.4h1.5M495.0 64.1h1.5M495.0 59.7h1.5M495.0 55.4h1.5M495.0 51.1h2.5M495.0 46.8h1.5M495.0 42.5h1.5M495.0 38.1h1.5M495.0 33.8h1.5M495.0 29.5h2.5M495.5 138.0v-2.5M500.5 138.0v-1.5M505.6 138.0v-1.5M510.6 138.0v-1.5M515.7 138.0v-1.5M520.7 138.0v-2.5M525.7 138.0v-1.5M530.8 138.0v-1.5M535.8 138.0v-1.5M540.9 138.0v-1.5M545.9 138.0v-2.5M550.9 138.0v-1.5M556.0 138.0v-1.5M561.0 138.0v-1.5M566.1 138.0v-1.5M571.1 138.0v-2.5M576.1 138.0v-1.5M581.2 138.0v-1.5M586.2 138.0v-1.5M591.3 138.0v-1.5M596.3 138.0v-2.5M601.3 138.0v-1.5M606.4 138.0v-1.5M611.4 138.0v-1.5M616.5 138.0v-1.5M621.5 138.0v-2.5" stroke="#333" stroke-width="0.7" fill="none"/>
<text x="496.0" y="141.8" font-size="3.6" fill="#555" text-anchor="middle">0</text>
<text x="521.2" y="141.8" font-size="3.6" fill="#555" text-anchor="middle">200</text>
<text x="546.4" y="141.8" font-size="3.6" fill="#555" text-anchor="middle">400</text>
<text x="571.6" y="141.8" font-size="3.6" fill="#555" text-anchor="middle">600</text>
<text x="596.8" y="141.8" font-size="3.6" fill="#555" text-anchor="middle">800</text>
<text x="622.0" y="141.8" font-size="3.6" fill="#555" text-anchor="middle">1000</text>
<text x="0" y="0" font-size="3.6" fill="#666" text-anchor="middle" transform="translate(494.0 137.5) rotate(-90)">0</text>
<text x="0" y="0" font-size="3.6" fill="#666" text-anchor="middle" transform="translate(494.0 115.9) rotate(-90)">20</text>
<text x="0" y="0" font-size="3.6" fill="#666" text-anchor="middle" transform="translate(494.0 94.3) rotate(-90)">40</text>
<text x="0" y="0" font-size="3.6" fill="#666" text-anchor="middle" transform="translate(494.0 72.7) rotate(-90)">60</text>
<text x="0" y="0" font-size="3.6" fill="#666" text-anchor="middle" transform="translate(494.0 51.1) rotate(-90)">80</text>
<text x="0" y="0" font-size="3.6" fill="#666" text-anchor="middle" transform="translate(494.0 29.5) rotate(-90)">100</text>
<text x="558.5" y="144.8" font-size="3.4" fill="#666" text-anchor="middle">FL2-A</text>
<text x="0" y="0" font-size="3.4" fill="#777" text-anchor="middle" transform="translate(491.2 83.0) rotate(-90)">Counts</text>
<text x="551.9" y="25.2" font-size="7.2" font-weight="bold" text-anchor="start" fill="#111" >6h</text>
<text x="575.7" y="40.4" font-size="5.15" fill="#141414">SubG0/G1:</text>
<text x="619.5" y="40.4" font-size="5.15" fill="#141414" text-anchor="end">3.53%</text>
<text x="575.7" y="45.3" font-size="5.15" fill="#141414">G0/G1</text>
<text x="599.2" y="45.3" font-size="5.15" fill="#141414">:</text>
<text x="619.5" y="45.3" font-size="5.15" fill="#141414" text-anchor="end">73.64%</text>
<text x="575.7" y="50.2" font-size="5.15" fill="#141414">S</text>
<text x="599.2" y="50.2" font-size="5.15" fill="#141414">:</text>
<text x="619.5" y="50.2" font-size="5.15" fill="#141414" text-anchor="end">13.89%</text>
<text x="575.7" y="55.1" font-size="5.15" fill="#141414">G2/M</text>
<text x="599.2" y="55.1" font-size="5.15" fill="#141414">:</text>
<text x="619.5" y="55.1" font-size="5.15" fill="#141414" text-anchor="end">9.22%</text>
<polygon points="497.00,136.89999999999998 497.00,136.90 497.50,136.90 498.00,136.90 498.50,136.90 499.00,136.90 499.50,136.90 500.00,136.89 500.50,136.85 501.00,136.56 501.50,136.33 502.00,135.74 502.50,134.17 503.00,133.31 503.50,133.91 504.00,135.19 504.50,135.34 505.00,135.16 505.50,135.36 506.00,135.29 506.50,135.45 507.00,135.27 507.50,133.79 508.00,134.14 508.50,135.66 509.00,135.73 509.50,134.96 510.00,135.18 510.50,135.30 511.00,135.54 511.50,135.49 512.00,134.51 512.50,134.67 513.00,134.77 513.50,134.54 514.00,135.07 514.50,135.67 515.00,134.86 515.50,134.34 516.00,134.13 516.50,132.81 517.00,131.70 517.50,129.31 518.00,125.99 518.50,119.63 519.00,105.42 519.50,78.09 520.00,44.82 520.50,28.90 521.00,39.48 521.50,64.74 522.00,91.23 522.50,110.04 523.00,120.05 523.50,125.81 524.00,129.04 524.50,129.35 525.00,130.84 525.50,131.35 526.00,131.57 526.50,133.37 527.00,131.78 527.50,132.64 528.00,133.63 528.50,132.54 529.00,132.98 529.50,132.20 530.00,133.97 530.50,133.64 531.00,131.11 531.50,133.24 532.00,132.48 532.50,131.84 533.00,131.50 533.50,131.90 534.00,133.20 534.50,132.35 535.00,132.27 535.50,131.75 536.00,132.02 536.50,133.18 537.00,133.37 537.50,131.54 538.00,133.32 538.50,131.73 539.00,131.11 539.50,131.61 540.00,129.77 540.50,128.72 541.00,124.67 541.50,124.13 542.00,124.19 542.50,126.05 543.00,125.74 543.50,127.08 544.00,127.99 544.50,129.50 545.00,129.86 545.50,132.19 546.00,132.55 546.50,133.86 547.00,134.84 547.50,135.57 548.00,136.30 548.50,136.34 549.00,136.59 549.50,136.70 550.00,136.80 550.50,136.85 551.00,136.87 551.50,136.89 551.50,136.89999999999998" fill="#f02306" stroke="#5a0c06" stroke-width="0.45" stroke-linejoin="round"/>
<line x1="503" y1="69.1" x2="551.6" y2="69.1" stroke="#555" stroke-width="0.9"/>
<line x1="503" y1="65.3" x2="503" y2="72.89999999999999" stroke="#444" stroke-width="0.9"/>
<line x1="516.4" y1="65.3" x2="516.4" y2="72.89999999999999" stroke="#444" stroke-width="0.9"/>
<line x1="524.4" y1="65.3" x2="524.4" y2="72.89999999999999" stroke="#444" stroke-width="0.9"/>
<line x1="539.7" y1="65.3" x2="539.7" y2="72.89999999999999" stroke="#444" stroke-width="0.9"/>
<line x1="551.6" y1="65.3" x2="551.6" y2="72.89999999999999" stroke="#444" stroke-width="0.9"/>
<path d="M635.5 29.5H761.5" stroke="#8a8a8a" stroke-width="1.2" fill="none"/>
<path d="M761.5 29.5V138.5" stroke="#a8a8a8" stroke-width="1" fill="none"/>
<path d="M635.5 29.5V138.5" stroke="#a0a0a0" stroke-width="1" fill="none"/>
<path d="M635.5 138.5H761.5" stroke="#606060" stroke-width="1" fill="none"/>
<path d="M635.0 138.5h2.5M635.0 134.1h1.5M635.0 129.8h1.5M635.0 125.4h1.5M635.0 121.1h1.5M635.0 116.7h2.5M635.0 112.3h1.5M635.0 108.0h1.5M635.0 103.6h1.5M635.0 99.3h1.5M635.0 94.9h2.5M635.0 90.5h1.5M635.0 86.2h1.5M635.0 81.8h1.5M635.0 77.5h1.5M635.0 73.1h2.5M635.0 68.7h1.5M635.0 64.4h1.5M635.0 60.0h1.5M635.0 55.7h1.5M635.0 51.3h2.5M635.0 46.9h1.5M635.0 42.6h1.5M635.0 38.2h1.5M635.0 33.9h1.5M635.0 29.5h2.5M635.5 139.0v-2.5M640.5 139.0v-1.5M645.6 139.0v-1.5M650.6 139.0v-1.5M655.7 139.0v-1.5M660.7 139.0v-2.5M665.7 139.0v-1.5M670.8 139.0v-1.5M675.8 139.0v-1.5M680.9 139.0v-1.5M685.9 139.0v-2.5M690.9 139.0v-1.5M696.0 139.0v-1.5M701.0 139.0v-1.5M706.1 139.0v-1.5M711.1 139.0v-2.5M716.1 139.0v-1.5M721.2 139.0v-1.5M726.2 139.0v-1.5M731.3 139.0v-1.5M736.3 139.0v-2.5M741.3 139.0v-1.5M746.4 139.0v-1.5M751.4 139.0v-1.5M756.5 139.0v-1.5M761.5 139.0v-2.5" stroke="#333" stroke-width="0.7" fill="none"/>
<text x="636.0" y="142.8" font-size="3.6" fill="#555" text-anchor="middle">0</text>
<text x="661.2" y="142.8" font-size="3.6" fill="#555" text-anchor="middle">200</text>
<text x="686.4" y="142.8" font-size="3.6" fill="#555" text-anchor="middle">400</text>
<text x="711.6" y="142.8" font-size="3.6" fill="#555" text-anchor="middle">600</text>
<text x="736.8" y="142.8" font-size="3.6" fill="#555" text-anchor="middle">800</text>
<text x="762.0" y="142.8" font-size="3.6" fill="#555" text-anchor="middle">1000</text>
<text x="0" y="0" font-size="3.6" fill="#666" text-anchor="middle" transform="translate(634.0 138.5) rotate(-90)">0</text>
<text x="0" y="0" font-size="3.6" fill="#666" text-anchor="middle" transform="translate(634.0 116.7) rotate(-90)">20</text>
<text x="0" y="0" font-size="3.6" fill="#666" text-anchor="middle" transform="translate(634.0 94.9) rotate(-90)">40</text>
<text x="0" y="0" font-size="3.6" fill="#666" text-anchor="middle" transform="translate(634.0 73.1) rotate(-90)">60</text>
<text x="0" y="0" font-size="3.6" fill="#666" text-anchor="middle" transform="translate(634.0 51.3) rotate(-90)">80</text>
<text x="0" y="0" font-size="3.6" fill="#666" text-anchor="middle" transform="translate(634.0 29.5) rotate(-90)">100</text>
<text x="698.5" y="145.8" font-size="3.4" fill="#666" text-anchor="middle">FL2-A</text>
<text x="0" y="0" font-size="3.4" fill="#777" text-anchor="middle" transform="translate(631.2 83.5) rotate(-90)">Counts</text>
<text x="692.7" y="24.9" font-size="7.2" font-weight="bold" text-anchor="start" fill="#111" >24h</text>
<text x="715.7" y="40.7" font-size="5.15" fill="#141414">SubG0/G1:</text>
<text x="759.5" y="40.7" font-size="5.15" fill="#141414" text-anchor="end">3.43%</text>
<text x="715.7" y="45.6" font-size="5.15" fill="#141414">G0/G1</text>
<text x="739.2" y="45.6" font-size="5.15" fill="#141414">:</text>
<text x="759.5" y="45.6" font-size="5.15" fill="#141414" text-anchor="end">63.29%</text>
<text x="715.7" y="50.6" font-size="5.15" fill="#141414">S</text>
<text x="739.2" y="50.6" font-size="5.15" fill="#141414">:</text>
<text x="759.5" y="50.6" font-size="5.15" fill="#141414" text-anchor="end">11.40%</text>
<text x="715.7" y="55.5" font-size="5.15" fill="#141414">G2/M</text>
<text x="739.2" y="55.5" font-size="5.15" fill="#141414">:</text>
<text x="759.5" y="55.5" font-size="5.15" fill="#141414" text-anchor="end">22.11%</text>
<polygon points="646.00,137.79999999999998 646.00,137.63 646.50,137.59 647.00,137.55 647.50,137.49 648.00,137.41 648.50,137.24 649.00,136.78 649.50,136.08 650.00,135.65 650.50,135.40 651.00,135.16 651.50,134.86 652.00,134.43 652.50,133.84 653.00,133.02 653.50,131.92 654.00,130.46 654.50,128.59 655.00,126.22 655.50,123.20 656.00,119.43 656.50,114.93 657.00,109.76 657.50,103.92 658.00,97.35 658.50,90.03 659.00,82.26 659.50,75.07 660.00,70.06 660.50,68.69 661.00,70.81 661.50,75.57 662.00,81.92 662.50,88.71 663.00,95.64 663.50,102.41 664.00,107.81 664.50,113.58 665.00,117.50 665.50,121.41 666.00,124.76 666.50,126.93 667.00,129.19 667.50,130.73 668.00,132.09 668.50,132.66 669.00,133.53 669.50,134.09 670.00,134.22 670.50,134.23 671.00,134.66 671.50,134.31 672.00,134.84 672.50,134.65 673.00,134.77 673.50,134.65 674.00,134.96 674.50,134.59 675.00,134.29 675.50,134.39 676.00,133.78 676.50,133.23 677.00,131.93 677.50,130.77 678.00,128.85 678.50,127.75 679.00,125.95 679.50,124.53 680.00,123.20 680.50,121.93 681.00,121.97 681.50,122.04 682.00,122.13 682.50,122.95 683.00,123.98 683.50,125.08 684.00,126.34 684.50,127.14 685.00,128.62 685.50,129.85 686.00,130.81 686.50,131.68 687.00,132.66 687.50,133.40 688.00,134.14 688.50,134.40 689.00,135.08 689.50,135.22 690.00,136.00 690.50,136.48 691.00,136.93 691.50,137.32 692.00,137.51 692.50,137.61 693.00,137.70 693.50,137.74 693.50,137.79999999999998" fill="#f02306" stroke="#5a0c06" stroke-width="0.45" stroke-linejoin="round"/>
<line x1="649.6" y1="68.7" x2="691.9" y2="68.7" stroke="#555" stroke-width="0.9"/>
<line x1="649.6" y1="65.10000000000001" x2="649.6" y2="72.3" stroke="#444" stroke-width="0.9"/>
<line x1="655.5" y1="65.10000000000001" x2="655.5" y2="72.3" stroke="#444" stroke-width="0.9"/>
<line x1="668.3" y1="65.10000000000001" x2="668.3" y2="72.3" stroke="#444" stroke-width="0.9"/>
<line x1="676.5" y1="65.10000000000001" x2="676.5" y2="72.3" stroke="#444" stroke-width="0.9"/>
<line x1="691.9" y1="65.10000000000001" x2="691.9" y2="72.3" stroke="#444" stroke-width="0.9"/>
<path d="M350.5 165.5H478.5" stroke="#8a8a8a" stroke-width="1.2" fill="none"/>
<path d="M478.5 165.5V277.5" stroke="#a8a8a8" stroke-width="1" fill="none"/>
<path d="M350.5 165.5V277.5" stroke="#a0a0a0" stroke-width="1" fill="none"/>
<path d="M350.5 277.5H478.5" stroke="#606060" stroke-width="1" fill="none"/>
<path d="M350.0 277.5h2.5M350.0 273.0h1.5M350.0 268.5h1.5M350.0 264.1h1.5M350.0 259.6h1.5M350.0 255.1h2.5M350.0 250.6h1.5M350.0 246.1h1.5M350.0 241.7h1.5M350.0 237.2h1.5M350.0 232.7h2.5M350.0 228.2h1.5M350.0 223.7h1.5M350.0 219.3h1.5M350.0 214.8h1.5M350.0 210.3h2.5M350.0 205.8h1.5M350.0 201.3h1.5M350.0 196.9h1.5M350.0 192.4h1.5M350.0 187.9h2.5M350.0 183.4h1.5M350.0 178.9h1.5M350.0 174.5h1.5M350.0 170.0h1.5M350.0 165.5h2.5M350.5 278.0v-2.5M355.6 278.0v-1.5M360.7 278.0v-1.5M365.9 278.0v-1.5M371.0 278.0v-1.5M376.1 278.0v-2.5M381.2 278.0v-1.5M386.3 278.0v-1.5M391.5 278.0v-1.5M396.6 278.0v-1.5M401.7 278.0v-2.5M406.8 278.0v-1.5M411.9 278.0v-1.5M417.1 278.0v-1.5M422.2 278.0v-1.5M427.3 278.0v-2.5M432.4 278.0v-1.5M437.5 278.0v-1.5M442.7 278.0v-1.5M447.8 278.0v-1.5M452.9 278.0v-2.5M458.0 278.0v-1.5M463.1 278.0v-1.5M468.3 278.0v-1.5M473.4 278.0v-1.5M478.5 278.0v-2.5" stroke="#333" stroke-width="0.7" fill="none"/>
<text x="351.0" y="281.8" font-size="3.6" fill="#555" text-anchor="middle">0</text>
<text x="376.6" y="281.8" font-size="3.6" fill="#555" text-anchor="middle">200</text>
<text x="402.2" y="281.8" font-size="3.6" fill="#555" text-anchor="middle">400</text>
<text x="427.8" y="281.8" font-size="3.6" fill="#555" text-anchor="middle">600</text>
<text x="453.4" y="281.8" font-size="3.6" fill="#555" text-anchor="middle">800</text>
<text x="479.0" y="281.8" font-size="3.6" fill="#555" text-anchor="middle">1000</text>
<text x="0" y="0" font-size="3.6" fill="#666" text-anchor="middle" transform="translate(349.0 277.5) rotate(-90)">0</text>
<text x="0" y="0" font-size="3.6" fill="#666" text-anchor="middle" transform="translate(349.0 255.1) rotate(-90)">20</text>
<text x="0" y="0" font-size="3.6" fill="#666" text-anchor="middle" transform="translate(349.0 232.7) rotate(-90)">40</text>
<text x="0" y="0" font-size="3.6" fill="#666" text-anchor="middle" transform="translate(349.0 210.3) rotate(-90)">60</text>
<text x="0" y="0" font-size="3.6" fill="#666" text-anchor="middle" transform="translate(349.0 187.9) rotate(-90)">80</text>
<text x="0" y="0" font-size="3.6" fill="#666" text-anchor="middle" transform="translate(349.0 165.5) rotate(-90)">100</text>
<text x="414.5" y="284.8" font-size="3.4" fill="#666" text-anchor="middle">FL2-A</text>
<text x="0" y="0" font-size="3.4" fill="#777" text-anchor="middle" transform="translate(346.2 221.0) rotate(-90)">Counts</text>
<text x="405.9" y="160.3" font-size="7.2" font-weight="bold" text-anchor="start" fill="#111" >48h</text>
<text x="432.0" y="176.7" font-size="5.15" fill="#141414">subG0/G1:</text>
<text x="474.5" y="176.7" font-size="5.15" fill="#141414" text-anchor="end">7.95%</text>
<text x="432.0" y="181.8" font-size="5.15" fill="#141414">G0/G1</text>
<text x="456.2" y="181.8" font-size="5.15" fill="#141414">:</text>
<text x="474.5" y="181.8" font-size="5.15" fill="#141414" text-anchor="end">49.52%</text>
<text x="432.0" y="186.9" font-size="5.15" fill="#141414">S</text>
<text x="456.2" y="186.9" font-size="5.15" fill="#141414">:</text>
<text x="474.5" y="186.9" font-size="5.15" fill="#141414" text-anchor="end">16.66%</text>
<text x="432.0" y="192.0" font-size="5.15" fill="#141414">G2/M</text>
<text x="456.2" y="192.0" font-size="5.15" fill="#141414">:</text>
<text x="474.5" y="192.0" font-size="5.15" fill="#141414" text-anchor="end">26.33%</text>
<polygon points="360.00,277.0 360.00,277.00 360.50,277.00 361.00,277.00 361.50,276.94 362.00,277.00 362.50,277.00 363.00,275.57 363.50,273.21 364.00,271.04 364.50,272.82 365.00,272.05 365.50,272.59 366.00,272.59 366.50,271.41 367.00,272.21 367.50,274.14 368.00,271.93 368.50,271.64 369.00,269.95 369.50,272.23 370.00,272.08 370.50,269.71 371.00,271.10 371.50,271.54 372.00,269.75 372.50,269.28 373.00,267.60 373.50,265.42 374.00,258.12 374.50,251.87 375.00,243.78 375.50,238.60 376.00,238.04 376.50,243.81 377.00,245.45 377.50,253.83 378.00,258.02 378.50,261.65 379.00,264.08 379.50,266.64 380.00,268.35 380.50,267.81 381.00,268.10 381.50,270.72 382.00,269.86 382.50,269.92 383.00,270.82 383.50,269.93 384.00,269.89 384.50,270.80 385.00,270.01 385.50,270.00 386.00,269.95 386.50,269.10 387.00,268.80 387.50,267.87 388.00,270.76 388.50,269.71 389.00,269.07 389.50,268.42 390.00,267.65 390.50,269.77 391.00,267.81 391.50,269.25 392.00,266.21 392.50,266.91 393.00,267.15 393.50,267.22 394.00,266.67 394.50,265.93 395.00,265.67 395.50,266.06 396.00,265.34 396.50,263.81 397.00,263.59 397.50,265.26 398.00,266.02 398.50,266.19 399.00,264.65 399.50,265.13 400.00,267.49 400.50,267.17 401.00,266.69 401.50,267.89 402.00,268.30 402.50,269.93 403.00,268.82 403.50,269.26 404.00,271.42 404.50,273.13 405.00,273.08 405.50,274.09 406.00,275.91 406.50,277.00 407.00,276.97 407.50,277.00 408.00,276.98 408.50,276.99 408.50,277.0" fill="#f02306" stroke="#5a0c06" stroke-width="0.45" stroke-linejoin="round"/>
<line x1="360.6" y1="230.2" x2="406.5" y2="230.2" stroke="#555" stroke-width="0.9"/>
<line x1="360.6" y1="227.6" x2="360.6" y2="232.79999999999998" stroke="#444" stroke-width="0.9"/>
<line x1="370.4" y1="227.6" x2="370.4" y2="232.79999999999998" stroke="#444" stroke-width="0.9"/>
<line x1="380.3" y1="227.6" x2="380.3" y2="232.79999999999998" stroke="#444" stroke-width="0.9"/>
<line x1="391.2" y1="227.6" x2="391.2" y2="232.79999999999998" stroke="#444" stroke-width="0.9"/>
<line x1="406.5" y1="227.6" x2="406.5" y2="232.79999999999998" stroke="#444" stroke-width="0.9"/>
<path d="M497.5 164.5H624.5" stroke="#8a8a8a" stroke-width="1.2" fill="none"/>
<path d="M624.5 164.5V277.5" stroke="#a8a8a8" stroke-width="1" fill="none"/>
<path d="M497.5 164.5V277.5" stroke="#a0a0a0" stroke-width="1" fill="none"/>
<path d="M497.5 277.5H624.5" stroke="#606060" stroke-width="1" fill="none"/>
<path d="M497.0 277.5h2.5M497.0 273.0h1.5M497.0 268.5h1.5M497.0 263.9h1.5M497.0 259.4h1.5M497.0 254.9h2.5M497.0 250.4h1.5M497.0 245.9h1.5M497.0 241.3h1.5M497.0 236.8h1.5M497.0 232.3h2.5M497.0 227.8h1.5M497.0 223.3h1.5M497.0 218.7h1.5M497.0 214.2h1.5M497.0 209.7h2.5M497.0 205.2h1.5M497.0 200.7h1.5M497.0 196.1h1.5M497.0 191.6h1.5M497.0 187.1h2.5M497.0 182.6h1.5M497.0 178.1h1.5M497.0 173.5h1.5M497.0 169.0h1.5M497.0 164.5h2.5M497.5 278.0v-2.5M502.6 278.0v-1.5M507.7 278.0v-1.5M512.7 278.0v-1.5M517.8 278.0v-1.5M522.9 278.0v-2.5M528.0 278.0v-1.5M533.1 278.0v-1.5M538.1 278.0v-1.5M543.2 278.0v-1.5M548.3 278.0v-2.5M553.4 278.0v-1.5M558.5 278.0v-1.5M563.5 278.0v-1.5M568.6 278.0v-1.5M573.7 278.0v-2.5M578.8 278.0v-1.5M583.9 278.0v-1.5M588.9 278.0v-1.5M594.0 278.0v-1.5M599.1 278.0v-2.5M604.2 278.0v-1.5M609.3 278.0v-1.5M614.3 278.0v-1.5M619.4 278.0v-1.5M624.5 278.0v-2.5" stroke="#333" stroke-width="0.7" fill="none"/>
<text x="498.0" y="281.8" font-size="3.6" fill="#555" text-anchor="middle">0</text>
<text x="523.4" y="281.8" font-size="3.6" fill="#555" text-anchor="middle">200</text>
<text x="548.8" y="281.8" font-size="3.6" fill="#555" text-anchor="middle">400</text>
<text x="574.2" y="281.8" font-size="3.6" fill="#555" text-anchor="middle">600</text>
<text x="599.6" y="281.8" font-size="3.6" fill="#555" text-anchor="middle">800</text>
<text x="625.0" y="281.8" font-size="3.6" fill="#555" text-anchor="middle">1000</text>
<text x="0" y="0" font-size="3.6" fill="#666" text-anchor="middle" transform="translate(496.0 277.5) rotate(-90)">0</text>
<text x="0" y="0" font-size="3.6" fill="#666" text-anchor="middle" transform="translate(496.0 254.9) rotate(-90)">20</text>
<text x="0" y="0" font-size="3.6" fill="#666" text-anchor="middle" transform="translate(496.0 232.3) rotate(-90)">40</text>
<text x="0" y="0" font-size="3.6" fill="#666" text-anchor="middle" transform="translate(496.0 209.7) rotate(-90)">60</text>
<text x="0" y="0" font-size="3.6" fill="#666" text-anchor="middle" transform="translate(496.0 187.1) rotate(-90)">80</text>
<text x="0" y="0" font-size="3.6" fill="#666" text-anchor="middle" transform="translate(496.0 164.5) rotate(-90)">100</text>
<text x="561.0" y="284.8" font-size="3.4" fill="#666" text-anchor="middle">FL2-A</text>
<text x="0" y="0" font-size="3.4" fill="#777" text-anchor="middle" transform="translate(493.2 220.5) rotate(-90)">Counts</text>
<text x="553.8" y="160" font-size="7.2" font-weight="bold" text-anchor="start" fill="#111" >72h</text>
<text x="578.6" y="175.8" font-size="5.15" fill="#141414">SubG0/G1:</text>
<text x="622.4" y="175.8" font-size="5.15" fill="#141414" text-anchor="end">13.30%</text>
<text x="578.6" y="180.9" font-size="5.15" fill="#141414">G0/G1</text>
<text x="602.1" y="180.9" font-size="5.15" fill="#141414">:</text>
<text x="622.4" y="180.9" font-size="5.15" fill="#141414" text-anchor="end">46.97%</text>
<text x="578.6" y="186.1" font-size="5.15" fill="#141414">S</text>
<text x="602.1" y="186.1" font-size="5.15" fill="#141414">:</text>
<text x="622.4" y="186.1" font-size="5.15" fill="#141414" text-anchor="end">17.81%</text>
<text x="578.6" y="191.2" font-size="5.15" fill="#141414">G2/M</text>
<text x="602.1" y="191.2" font-size="5.15" fill="#141414">:</text>
<text x="622.4" y="191.2" font-size="5.15" fill="#141414" text-anchor="end">22.66%</text>
<polygon points="501.00,276.90000000000003 501.00,276.90 501.50,276.90 502.00,276.90 502.50,276.90 503.00,276.90 503.50,275.56 504.00,273.64 504.50,271.03 505.00,268.81 505.50,267.96 506.00,266.97 506.50,267.75 507.00,268.20 507.50,267.93 508.00,266.78 508.50,268.84 509.00,268.59 509.50,268.56 510.00,267.91 510.50,268.87 511.00,268.73 511.50,268.57 512.00,268.18 512.50,268.03 513.00,269.71 513.50,269.74 514.00,269.76 514.50,269.07 515.00,269.50 515.50,268.97 516.00,268.62 516.50,269.87 517.00,267.70 517.50,267.55 518.00,265.64 518.50,264.37 519.00,262.45 519.50,259.12 520.00,255.54 520.50,253.16 521.00,248.46 521.50,243.69 522.00,240.97 522.50,236.13 523.00,233.02 523.50,232.23 524.00,230.76 524.50,230.10 525.00,231.03 525.50,231.47 526.00,236.30 526.50,237.88 527.00,243.58 527.50,247.92 528.00,251.05 528.50,254.96 529.00,257.52 529.50,259.79 530.00,263.07 530.50,264.05 531.00,264.14 531.50,266.39 532.00,264.85 532.50,266.94 533.00,267.83 533.50,265.77 534.00,268.07 534.50,266.46 535.00,265.88 535.50,265.49 536.00,266.39 536.50,267.10 537.00,264.98 537.50,265.35 538.00,266.24 538.50,264.56 539.00,265.22 539.50,263.97 540.00,264.07 540.50,263.11 541.00,263.36 541.50,264.25 542.00,262.63 542.50,262.56 543.00,261.28 543.50,262.55 544.00,262.76 544.50,262.33 545.00,262.77 545.50,261.98 546.00,262.50 546.50,261.36 547.00,262.63 547.50,263.41 548.00,263.04 548.50,261.03 549.00,261.73 549.50,263.62 550.00,262.78 550.50,262.94 551.00,261.02 551.50,263.04 552.00,263.53 552.50,263.72 553.00,265.68 553.50,264.87 554.00,265.41 554.50,265.76 555.00,267.03 555.50,267.08 556.00,268.74 556.50,271.05 557.00,272.24 557.50,273.87 558.00,275.71 558.50,276.90 559.00,276.90 559.50,276.90 560.00,276.90 560.50,276.90 560.50,276.90000000000003" fill="#f02306" stroke="#5a0c06" stroke-width="0.45" stroke-linejoin="round"/>
<line x1="502.9" y1="230.4" x2="559" y2="230.4" stroke="#555" stroke-width="0.9"/>
<line x1="502.9" y1="226.4" x2="502.9" y2="234.4" stroke="#444" stroke-width="0.9"/>
<line x1="516.4" y1="226.4" x2="516.4" y2="234.4" stroke="#444" stroke-width="0.9"/>
<line x1="531.5" y1="226.4" x2="531.5" y2="234.4" stroke="#444" stroke-width="0.9"/>
<line x1="541.3" y1="226.4" x2="541.3" y2="234.4" stroke="#444" stroke-width="0.9"/>
<line x1="559" y1="226.4" x2="559" y2="234.4" stroke="#444" stroke-width="0.9"/>
</svg>
</body></html>
